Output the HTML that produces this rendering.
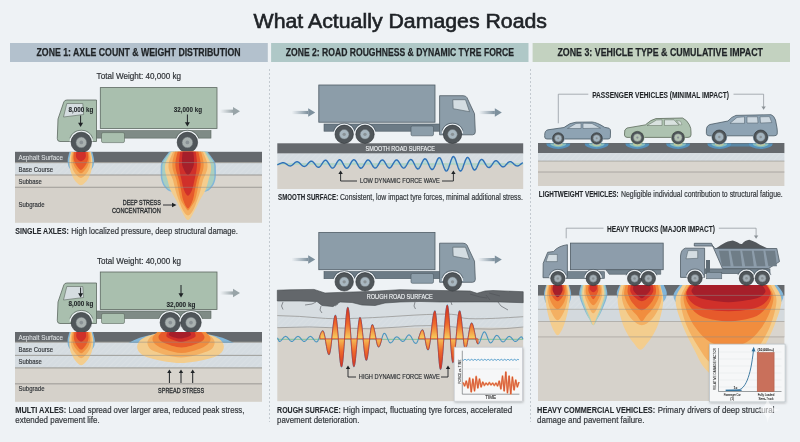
<!DOCTYPE html>
<html><head><meta charset="utf-8"><style>
html,body{margin:0;padding:0;background:#eef2f5;}
svg{display:block;font-family:"Liberation Sans", sans-serif;will-change:transform;}
</style></head><body>
<svg width="800" height="442" viewBox="0 0 800 442">

<defs>
 <pattern id="hatch" patternUnits="userSpaceOnUse" width="4" height="4" patternTransform="rotate(45)">
   <rect width="4" height="4" fill="#d5dce1"/>
   <line x1="0" y1="0" x2="0" y2="4" stroke="#dde3e6" stroke-width="1"/>
 </pattern>
 <linearGradient id="arrG" x1="0" x2="1" y1="0" y2="0">
   <stop offset="0" stop-color="#a7b1b5" stop-opacity="0"/>
   <stop offset="1" stop-color="#98a4a8" stop-opacity="1"/>
 </linearGradient>
 <linearGradient id="arrB" x1="0" x2="1" y1="0" y2="0">
   <stop offset="0" stop-color="#8799a6" stop-opacity="0"/>
   <stop offset="1" stop-color="#7d909d" stop-opacity="1"/>
 </linearGradient>
 <linearGradient id="flame" gradientUnits="userSpaceOnUse" x1="0" y1="303" x2="0" y2="372">
   <stop offset="0" stop-color="#c8231f"/>
   <stop offset="0.3" stop-color="#ee6a2c"/>
   <stop offset="0.5" stop-color="#f6c85a"/>
   <stop offset="0.7" stop-color="#ee6a2c"/>
   <stop offset="1" stop-color="#c8231f"/>
 </linearGradient>
 <filter id="sh" x="-10%" y="-10%" width="120%" height="120%">
   <feDropShadow dx="0.5" dy="1" stdDeviation="1" flood-color="#000" flood-opacity="0.25"/>
 </filter>
 <filter id="blur1"><feGaussianBlur stdDeviation="0.7"/></filter>
</defs>

<rect x="0" y="0" width="800" height="442" rx="0" fill="#eef2f5" />
<text x="253.6" y="28.4" font-size="19.6" fill="#1e2226" textLength="293.4" lengthAdjust="spacingAndGlyphs" stroke="#1e2226" stroke-width="0.6">What Actually Damages Roads</text>
<rect x="10" y="43" width="257.8" height="19" rx="0" fill="#b3c1cd" />
<rect x="271.1" y="43" width="257.4" height="19" rx="0" fill="#afc8c7" />
<rect x="532.6" y="43" width="257.4" height="19" rx="0" fill="#c3d2c0" />
<text x="36.5" y="56.4" font-size="10.8" fill="#1f2326" font-weight="bold" text-anchor="start" textLength="204" lengthAdjust="spacingAndGlyphs" stroke="#1f2326" stroke-width="0.25" >ZONE 1: AXLE COUNT &amp; WEIGHT DISTRIBUTION</text>
<text x="285.8" y="56.4" font-size="10.8" fill="#1f2326" font-weight="bold" text-anchor="start" textLength="228.2" lengthAdjust="spacingAndGlyphs" stroke="#1f2326" stroke-width="0.25" >ZONE 2: ROAD ROUGHNESS &amp; DYNAMIC TYRE FORCE</text>
<text x="557.4" y="56.4" font-size="10.8" fill="#1f2326" font-weight="bold" text-anchor="start" textLength="205.6" lengthAdjust="spacingAndGlyphs" stroke="#1f2326" stroke-width="0.25" >ZONE 3: VEHICLE TYPE &amp; CUMULATIVE IMPACT</text>
<line x1="269.5" y1="69" x2="269.5" y2="422" stroke="#c3cad0" stroke-width="1" stroke-dasharray="2 2"/>
<line x1="530.5" y1="69" x2="530.5" y2="422" stroke="#c3cad0" stroke-width="1" stroke-dasharray="2 2"/>
<rect x="15" y="151.8" width="247" height="10.799999999999983" rx="0" fill="#65696d" />
<rect x="15" y="162.6" width="247" height="12.400000000000006" rx="0" fill="url(#hatch)" />
<rect x="15" y="175" width="247" height="12.300000000000011" rx="0" fill="#d9d5ce" />
<rect x="15" y="187.3" width="247" height="35.5" rx="0" fill="#d5d1ca" />
<line x1="15" y1="162.6" x2="262" y2="162.6" stroke="#a8a6a1" stroke-width="0.7"/>
<line x1="15" y1="175" x2="262" y2="175" stroke="#a8a6a1" stroke-width="0.7"/>
<line x1="15" y1="187.3" x2="262" y2="187.3" stroke="#a8a6a1" stroke-width="0.7"/>
<text x="18.5" y="171.8" font-size="7.6" fill="#2e3236" font-weight="normal" text-anchor="start" textLength="34.6" lengthAdjust="spacingAndGlyphs" stroke="#2e3236" stroke-width="0.1672" >Base Course</text>
<text x="18.5" y="184" font-size="7.6" fill="#2e3236" font-weight="normal" text-anchor="start" textLength="23.299999999999997" lengthAdjust="spacingAndGlyphs" stroke="#2e3236" stroke-width="0.1672" >Subbase</text>
<text x="18.5" y="207.3" font-size="7.6" fill="#2e3236" font-weight="normal" text-anchor="start" textLength="26.0" lengthAdjust="spacingAndGlyphs" stroke="#2e3236" stroke-width="0.1672" >Subgrade</text>
<rect x="15" y="332" width="247" height="10.199999999999989" rx="0" fill="#65696d" />
<rect x="15" y="342.2" width="247" height="13.199999999999989" rx="0" fill="url(#hatch)" />
<rect x="15" y="355.4" width="247" height="12.5" rx="0" fill="url(#hatch)" />
<rect x="15" y="367.9" width="247" height="15.900000000000034" rx="0" fill="#d8d4cd" />
<rect x="15" y="383.8" width="247" height="18.0" rx="0" fill="#d5d1ca" />
<line x1="15" y1="342.2" x2="262" y2="342.2" stroke="#a8a6a1" stroke-width="0.7"/>
<line x1="15" y1="355.4" x2="262" y2="355.4" stroke="#a8a6a1" stroke-width="0.7"/>
<line x1="15" y1="367.9" x2="262" y2="367.9" stroke="#a8a6a1" stroke-width="0.7"/>
<line x1="15" y1="383.8" x2="262" y2="383.8" stroke="#a8a6a1" stroke-width="0.7"/>
<text x="18.5" y="351.6" font-size="7.6" fill="#2e3236" font-weight="normal" text-anchor="start" textLength="34.5" lengthAdjust="spacingAndGlyphs" stroke="#2e3236" stroke-width="0.1672" >Base Course</text>
<text x="18.5" y="364.3" font-size="7.6" fill="#2e3236" font-weight="normal" text-anchor="start" textLength="23.299999999999997" lengthAdjust="spacingAndGlyphs" stroke="#2e3236" stroke-width="0.1672" >Subbase</text>
<text x="18.5" y="391.3" font-size="7.6" fill="#2e3236" font-weight="normal" text-anchor="start" textLength="26.0" lengthAdjust="spacingAndGlyphs" stroke="#2e3236" stroke-width="0.1672" >Subgrade</text>
<text x="15.25" y="234" font-size="9.0" fill="#24282c" font-weight="bold" text-anchor="start" textLength="53.55" lengthAdjust="spacingAndGlyphs" stroke="#24282c" stroke-width="0.09" >SINGLE AXLES:</text>
<text x="71.2" y="234" font-size="9.0" fill="#33373b" font-weight="normal" text-anchor="start" textLength="166.8" lengthAdjust="spacingAndGlyphs" stroke="#33373b" stroke-width="0.19799999999999998" >High localized pressure, deep structural damage.</text>
<text x="15.3" y="412.5" font-size="9.0" fill="#24282c" font-weight="bold" text-anchor="start" textLength="50.95" lengthAdjust="spacingAndGlyphs" stroke="#24282c" stroke-width="0.09" >MULTI AXLES:</text>
<text x="68.4" y="412.5" font-size="9.0" fill="#33373b" font-weight="normal" text-anchor="start" textLength="176.0" lengthAdjust="spacingAndGlyphs" stroke="#33373b" stroke-width="0.19799999999999998" >Load spread over larger area, reduced peak stress,</text>
<text x="15.3" y="422.5" font-size="9.0" fill="#33373b" font-weight="normal" text-anchor="start" textLength="84.4" lengthAdjust="spacingAndGlyphs" stroke="#33373b" stroke-width="0.19799999999999998" >extended pavement life.</text>
<text x="278.1" y="199.9" font-size="8.8" fill="#24282c" font-weight="bold" text-anchor="start" textLength="60.099999999999966" lengthAdjust="spacingAndGlyphs" stroke="#24282c" stroke-width="0.08800000000000001" >SMOOTH SURFACE:</text>
<text x="339.9" y="199.9" font-size="8.8" fill="#33373b" font-weight="normal" text-anchor="start" textLength="182.89999999999998" lengthAdjust="spacingAndGlyphs" stroke="#33373b" stroke-width="0.1936" >Consistent, low impact tyre forces, minimal additional stress.</text>
<text x="277.1" y="413.3" font-size="9.0" fill="#24282c" font-weight="bold" text-anchor="start" textLength="63.69999999999999" lengthAdjust="spacingAndGlyphs" stroke="#24282c" stroke-width="0.09" >ROUGH SURFACE:</text>
<text x="343.1" y="413.3" font-size="9.0" fill="#33373b" font-weight="normal" text-anchor="start" textLength="169.0" lengthAdjust="spacingAndGlyphs" stroke="#33373b" stroke-width="0.19799999999999998" >High impact, fluctuating tyre forces, accelerated</text>
<text x="277.1" y="423.3" font-size="9.0" fill="#33373b" font-weight="normal" text-anchor="start" textLength="82.29999999999995" lengthAdjust="spacingAndGlyphs" stroke="#33373b" stroke-width="0.19799999999999998" >pavement deterioration.</text>
<text x="538.8" y="197.2" font-size="8.8" fill="#24282c" font-weight="bold" text-anchor="start" textLength="79.90000000000009" lengthAdjust="spacingAndGlyphs" stroke="#24282c" stroke-width="0.08800000000000001" >LIGHTWEIGHT VEHICLES:</text>
<text x="621" y="197.2" font-size="8.8" fill="#33373b" font-weight="normal" text-anchor="start" textLength="161.79999999999995" lengthAdjust="spacingAndGlyphs" stroke="#33373b" stroke-width="0.1936" >Negligible individual contribution to structural fatigue.</text>
<text x="537.1" y="413.3" font-size="9.0" fill="#24282c" font-weight="bold" text-anchor="start" textLength="118.0" lengthAdjust="spacingAndGlyphs" stroke="#24282c" stroke-width="0.09" >HEAVY COMMERCIAL VEHICLES:</text>
<text x="657.7" y="413.3" font-size="9.0" fill="#33373b" font-weight="normal" text-anchor="start" textLength="116.69999999999993" lengthAdjust="spacingAndGlyphs" stroke="#33373b" stroke-width="0.19799999999999998" >Primary drivers of deep structural</text>
<text x="537.1" y="423.3" font-size="9.0" fill="#33373b" font-weight="normal" text-anchor="start" textLength="107.29999999999995" lengthAdjust="spacingAndGlyphs" stroke="#33373b" stroke-width="0.19799999999999998" >damage and pavement failure.</text>
<text x="96.6" y="79.3" font-size="9.4" fill="#2e3236" font-weight="normal" text-anchor="start" textLength="84.4" lengthAdjust="spacingAndGlyphs" stroke="#2e3236" stroke-width="0.20679999999999998" >Total Weight: 40,000 kg</text>
<text x="97" y="264" font-size="9.4" fill="#2e3236" font-weight="normal" text-anchor="start" textLength="84" lengthAdjust="spacingAndGlyphs" stroke="#2e3236" stroke-width="0.20679999999999998" >Total Weight: 40,000 kg</text>
<rect x="100.3" y="87.6" width="116.7" height="40.8" rx="0" fill="#a9bfae" stroke="#5c6860" stroke-width="0.8" />
<rect x="95" y="130.6" width="116" height="7.5" rx="0" fill="#7f8b86" stroke="#5c6860" stroke-width="0.6" />
<rect x="101.5" y="132.6" width="23" height="10" rx="1.5" fill="#a9bfae" stroke="#5c6860" stroke-width="0.6" />
<path d="M96.5,100 L67,100 Q64.5,100 63.8,102 L58,119 L57.3,138.5 Q57.3,141.5 60,141.5 L96.5,141.5 Z" fill="#a9bfae" stroke="#5c6860" stroke-width="0.8" />
<path d="M66.8,103.5 L82.8,103.5 L83.6,114.5 L63.5,117 Z" fill="#d5dde0" stroke="#5c6860" stroke-width="0.6" />
<path d="M70.34,141.44 A11.0,11.0 0 0 1 92.26,141.44" fill="none" stroke="#eef2f5" stroke-width="1.7" />
<path d="M69.84,138.23 A12.2,12.2 0 0 1 92.76,138.23" fill="none" stroke="#5f6a66" stroke-width="0.7" />
<circle cx="81.3" cy="142.4" r="10.2" fill="#50565a" stroke="#2c3134" stroke-width="0.6" />
<circle cx="81.3" cy="142.4" r="5.303999999999999" fill="#a9b1b0" stroke="#6f777a" stroke-width="0.5" />
<circle cx="81.3" cy="142.4" r="1.8359999999999999" fill="#8a9296" />
<path d="M176.44,141.44 A11.0,11.0 0 0 1 198.36,141.44" fill="none" stroke="#eef2f5" stroke-width="1.7" />
<path d="M175.94,138.23 A12.2,12.2 0 0 1 198.86,138.23" fill="none" stroke="#5f6a66" stroke-width="0.7" />
<circle cx="187.4" cy="142.4" r="10.2" fill="#50565a" stroke="#2c3134" stroke-width="0.6" />
<circle cx="187.4" cy="142.4" r="5.303999999999999" fill="#a9b1b0" stroke="#6f777a" stroke-width="0.5" />
<circle cx="187.4" cy="142.4" r="1.8359999999999999" fill="#8a9296" />
<text x="68.6" y="112.2" font-size="7.6" fill="#1d2124" font-weight="bold" text-anchor="start" textLength="24.8" lengthAdjust="spacingAndGlyphs" stroke="#1d2124" stroke-width="0.076" >8,000 kg</text>
<line x1="80.6" y1="115.5" x2="80.6" y2="124" stroke="#1f2326" stroke-width="1"/>
<path d="M78.1,122.8 L80.6,127 L83.1,122.8 Z" fill="#1f2326" />
<text x="173.8" y="111.6" font-size="7.6" fill="#1d2124" font-weight="bold" text-anchor="start" textLength="28.2" lengthAdjust="spacingAndGlyphs" stroke="#1d2124" stroke-width="0.076" >32,000 kg</text>
<line x1="187.4" y1="114.5" x2="187.4" y2="123.5" stroke="#1f2326" stroke-width="1"/>
<path d="M184.9,122.3 L187.4,126.5 L189.9,122.3 Z" fill="#1f2326" />
<rect x="220" y="109.60000000000001" width="13" height="3.2" fill="url(#arrG)"/>
<path d="M233,107.0 L240,111.2 L233,115.4 Z" fill="#98a4a8" />
<rect x="100.3" y="272" width="116.7" height="37.5" rx="0" fill="#a9bfae" stroke="#5c6860" stroke-width="0.8" />
<rect x="95" y="311" width="116" height="7.5" rx="0" fill="#7f8b86" stroke="#5c6860" stroke-width="0.6" />
<rect x="101.5" y="313.5" width="23" height="10" rx="1.5" fill="#a9bfae" stroke="#5c6860" stroke-width="0.6" />
<path d="M96.5,283 L67,283 Q64.5,283 63.8,285 L58,302 L57.3,320.5 Q57.3,323.5 60,323.5 L96.5,323.5 Z" fill="#a9bfae" stroke="#5c6860" stroke-width="0.8" />
<path d="M66.8,286.5 L82.8,286.5 L83.6,297.5 L63.5,300 Z" fill="#d5dde0" stroke="#5c6860" stroke-width="0.6" />
<path d="M70.34,321.64 A11.0,11.0 0 0 1 92.26,321.64" fill="none" stroke="#eef2f5" stroke-width="1.7" />
<path d="M69.84,318.43 A12.2,12.2 0 0 1 92.76,318.43" fill="none" stroke="#5f6a66" stroke-width="0.7" />
<circle cx="81.3" cy="322.6" r="10.2" fill="#50565a" stroke="#2c3134" stroke-width="0.6" />
<circle cx="81.3" cy="322.6" r="5.303999999999999" fill="#a9b1b0" stroke="#6f777a" stroke-width="0.5" />
<circle cx="81.3" cy="322.6" r="1.8359999999999999" fill="#8a9296" />
<path d="M159.34,321.64 A11.0,11.0 0 0 1 181.26,321.64" fill="none" stroke="#eef2f5" stroke-width="1.7" />
<path d="M158.84,318.43 A12.2,12.2 0 0 1 181.76,318.43" fill="none" stroke="#5f6a66" stroke-width="0.7" />
<circle cx="170.3" cy="322.6" r="10.2" fill="#50565a" stroke="#2c3134" stroke-width="0.6" />
<circle cx="170.3" cy="322.6" r="5.303999999999999" fill="#a9b1b0" stroke="#6f777a" stroke-width="0.5" />
<circle cx="170.3" cy="322.6" r="1.8359999999999999" fill="#8a9296" />
<path d="M180.04,321.64 A11.0,11.0 0 0 1 201.96,321.64" fill="none" stroke="#eef2f5" stroke-width="1.7" />
<path d="M179.54,318.43 A12.2,12.2 0 0 1 202.46,318.43" fill="none" stroke="#5f6a66" stroke-width="0.7" />
<circle cx="191" cy="322.6" r="10.2" fill="#50565a" stroke="#2c3134" stroke-width="0.6" />
<circle cx="191" cy="322.6" r="5.303999999999999" fill="#a9b1b0" stroke="#6f777a" stroke-width="0.5" />
<circle cx="191" cy="322.6" r="1.8359999999999999" fill="#8a9296" />
<line x1="80.6" y1="287.5" x2="80.6" y2="294.5" stroke="#1f2326" stroke-width="1"/>
<path d="M78.1,293.3 L80.6,297.5 L83.1,293.3 Z" fill="#1f2326" />
<text x="68.6" y="306.2" font-size="7.6" fill="#1d2124" font-weight="bold" text-anchor="start" textLength="24.8" lengthAdjust="spacingAndGlyphs" stroke="#1d2124" stroke-width="0.076" >8,000 kg</text>
<line x1="181" y1="285" x2="181" y2="294.5" stroke="#1f2326" stroke-width="1"/>
<path d="M178.5,293.3 L181,297.5 L183.5,293.3 Z" fill="#1f2326" />
<text x="166.5" y="306.6" font-size="7.6" fill="#1d2124" font-weight="bold" text-anchor="start" textLength="29" lengthAdjust="spacingAndGlyphs" stroke="#1d2124" stroke-width="0.076" >32,000 kg</text>
<rect x="220" y="291.4" width="13" height="3.2" fill="url(#arrG)"/>
<path d="M233,288.8 L240,293 L233,297.2 Z" fill="#98a4a8" />
<path d="M69.47,152.00 C69.17,153.38 67.80,157.75 67.70,160.30 C67.61,162.85 67.87,165.30 68.90,167.30 C69.93,169.30 71.90,171.13 73.90,172.30 C75.90,173.47 78.57,174.30 80.90,174.30 C83.23,174.30 85.90,173.47 87.90,172.30 C89.90,171.13 91.87,169.30 92.90,167.30 C93.93,165.30 94.20,162.85 94.10,160.30 C94.01,157.75 92.63,153.38 92.33,152.00 Z" fill="#82b6d9" />
<path d="M71.00,152.00 C70.73,153.38 69.50,157.25 69.40,160.30 C69.30,163.35 69.73,167.30 70.40,170.30 C71.07,173.30 72.23,176.13 73.40,178.30 C74.57,180.47 76.15,182.13 77.40,183.30 C78.65,184.47 79.73,185.30 80.90,185.30 C82.07,185.30 83.15,184.47 84.40,183.30 C85.65,182.13 87.23,180.47 88.40,178.30 C89.57,176.13 90.73,173.30 91.40,170.30 C92.07,167.30 92.50,163.35 92.40,160.30 C92.30,157.25 91.07,153.38 90.80,152.00 Z" fill="#f3cd8e" />
<path d="M71.90,152.00 C71.73,153.38 70.82,157.58 70.90,160.30 C70.98,163.02 71.57,165.97 72.40,168.30 C73.23,170.63 74.48,172.70 75.90,174.30 C77.32,175.90 79.23,177.90 80.90,177.90 C82.57,177.90 84.48,175.90 85.90,174.30 C87.32,172.70 88.57,170.63 89.40,168.30 C90.23,165.97 90.82,163.02 90.90,160.30 C90.98,157.58 90.07,153.38 89.90,152.00 Z" fill="#f4b062" />
<path d="M73.25,152.00 C73.11,153.22 72.21,156.92 72.40,159.30 C72.59,161.68 73.48,164.30 74.40,166.30 C75.32,168.30 76.82,170.13 77.90,171.30 C78.98,172.47 79.90,173.30 80.90,173.30 C81.90,173.30 82.82,172.47 83.90,171.30 C84.98,170.13 86.48,168.30 87.40,166.30 C88.32,164.30 89.21,161.68 89.40,159.30 C89.59,156.92 88.69,153.22 88.55,152.00 Z" fill="#f18d3e" />
<path d="M74.15,152.00 C74.06,153.05 73.34,156.25 73.60,158.30 C73.86,160.35 74.48,162.37 75.70,164.30 C76.92,166.23 79.17,169.90 80.90,169.90 C82.63,169.90 84.88,166.23 86.10,164.30 C87.32,162.37 87.94,160.35 88.20,158.30 C88.46,156.25 87.74,153.05 87.65,152.00 Z" fill="#e65a2b" />
<path d="M76.40,152.00 C76.32,152.72 75.73,155.08 75.90,156.30 C76.07,157.52 76.57,158.47 77.40,159.30 C78.23,160.13 79.73,161.30 80.90,161.30 C82.07,161.30 83.57,160.13 84.40,159.30 C85.23,158.47 85.73,157.52 85.90,156.30 C86.07,155.08 85.48,152.72 85.40,152.00 Z" fill="#d0302a" />
<path d="M169.13,151.70 C167.91,153.42 163.21,158.95 161.80,162.00 C160.40,165.05 160.78,167.00 160.70,170.00 C160.62,173.00 160.53,177.00 161.30,180.00 C162.07,183.00 163.47,186.00 165.30,188.00 C167.13,190.00 168.47,191.00 172.30,192.00 C176.13,193.00 182.97,194.00 188.30,194.00 C193.63,194.00 200.47,193.00 204.30,192.00 C208.13,191.00 209.47,190.00 211.30,188.00 C213.13,186.00 214.53,183.00 215.30,180.00 C216.07,177.00 215.98,173.00 215.90,170.00 C215.82,167.00 216.21,165.05 214.80,162.00 C213.40,158.95 208.69,153.42 207.47,151.70 Z" fill="#82b6d9" />
<path d="M170.30,151.70 C169.13,153.42 164.63,158.95 163.30,162.00 C161.97,165.05 162.38,167.00 162.30,170.00 C162.22,173.00 161.97,177.00 162.80,180.00 C163.63,183.00 165.22,186.00 167.30,188.00 C169.38,190.00 171.80,191.08 175.30,192.00 C178.80,192.92 183.97,193.50 188.30,193.50 C192.63,193.50 197.80,192.92 201.30,192.00 C204.80,191.08 207.22,190.00 209.30,188.00 C211.38,186.00 212.97,183.00 213.80,180.00 C214.63,177.00 214.38,173.00 214.30,170.00 C214.22,167.00 214.63,165.05 213.30,162.00 C211.97,158.95 207.47,153.42 206.30,151.70 Z" fill="#a9cfc0" />
<path d="M171.35,151.70 C170.46,153.42 167.06,158.95 166.00,162.00 C164.94,165.05 164.75,167.00 165.00,170.00 C165.25,173.00 166.58,176.67 167.50,180.00 C168.42,183.33 169.07,186.67 170.50,190.00 C171.93,193.33 174.33,196.67 176.10,200.00 C177.87,203.33 179.12,206.67 181.10,210.00 C183.08,213.33 185.70,220.00 188.00,220.00 C190.30,220.00 192.92,213.33 194.90,210.00 C196.88,206.67 198.13,203.33 199.90,200.00 C201.67,196.67 204.07,193.33 205.50,190.00 C206.93,186.67 207.58,183.33 208.50,180.00 C209.42,176.67 210.75,173.00 211.00,170.00 C211.25,167.00 211.06,165.05 210.00,162.00 C208.94,158.95 205.54,153.42 204.65,151.70 Z" fill="#f3cd8e" />
<path d="M173.15,151.70 C172.46,153.42 169.69,158.95 169.00,162.00 C168.31,165.05 168.33,167.00 169.00,170.00 C169.67,173.00 171.93,176.67 173.00,180.00 C174.07,183.33 174.45,186.67 175.40,190.00 C176.35,193.33 177.47,196.67 178.70,200.00 C179.93,203.33 181.25,207.40 182.80,210.00 C184.35,212.60 186.27,215.60 188.00,215.60 C189.73,215.60 191.65,212.60 193.20,210.00 C194.75,207.40 196.07,203.33 197.30,200.00 C198.53,196.67 199.65,193.33 200.60,190.00 C201.55,186.67 201.93,183.33 203.00,180.00 C204.07,176.67 206.33,173.00 207.00,170.00 C207.67,167.00 207.69,165.05 207.00,162.00 C206.31,158.95 203.54,153.42 202.85,151.70 Z" fill="#f4b062" />
<path d="M174.95,151.70 C174.54,153.42 172.82,158.95 172.50,162.00 C172.18,165.05 172.33,167.00 173.00,170.00 C173.67,173.00 175.58,176.67 176.50,180.00 C177.42,183.33 177.77,186.67 178.50,190.00 C179.23,193.33 179.90,197.33 180.90,200.00 C181.90,202.67 183.32,204.27 184.50,206.00 C185.68,207.73 186.83,210.40 188.00,210.40 C189.17,210.40 190.32,207.73 191.50,206.00 C192.68,204.27 194.10,202.67 195.10,200.00 C196.10,197.33 196.77,193.33 197.50,190.00 C198.23,186.67 198.58,183.33 199.50,180.00 C200.42,176.67 202.33,173.00 203.00,170.00 C203.67,167.00 203.82,165.05 203.50,162.00 C203.18,158.95 201.46,153.42 201.05,151.70 Z" fill="#f18d3e" />
<path d="M177.65,151.70 C177.29,153.42 175.78,158.95 175.50,162.00 C175.22,165.05 175.42,167.00 176.00,170.00 C176.58,173.00 178.15,176.67 179.00,180.00 C179.85,183.33 180.40,186.67 181.10,190.00 C181.80,193.33 182.05,196.92 183.20,200.00 C184.35,203.08 186.40,208.50 188.00,208.50 C189.60,208.50 191.65,203.08 192.80,200.00 C193.95,196.92 194.20,193.33 194.90,190.00 C195.60,186.67 196.15,183.33 197.00,180.00 C197.85,176.67 199.42,173.00 200.00,170.00 C200.58,167.00 200.78,165.05 200.50,162.00 C200.22,158.95 198.71,153.42 198.35,151.70 Z" fill="#e65a2b" />
<path d="M180.26,151.70 C180.05,153.42 179.13,158.95 179.00,162.00 C178.87,165.05 179.08,167.00 179.50,170.00 C179.92,173.00 180.75,176.67 181.50,180.00 C182.25,183.33 182.92,187.38 184.00,190.00 C185.08,192.62 186.67,195.70 188.00,195.70 C189.33,195.70 190.92,192.62 192.00,190.00 C193.08,187.38 193.75,183.33 194.50,180.00 C195.25,176.67 196.08,173.00 196.50,170.00 C196.92,167.00 197.13,165.05 197.00,162.00 C196.87,158.95 195.95,153.42 195.74,151.70 Z" fill="#d0302a" />
<path d="M182.69,151.70 C182.57,153.08 181.98,157.45 182.00,160.00 C182.02,162.55 181.80,164.50 182.80,167.00 C183.80,169.50 186.27,175.00 188.00,175.00 C189.73,175.00 192.20,169.50 193.20,167.00 C194.20,164.50 193.98,162.55 194.00,160.00 C194.02,157.45 193.43,153.08 193.31,151.70 Z" fill="#a61f2a" />
<path d="M69.50,331.90 C69.18,333.28 67.73,337.65 67.60,340.20 C67.47,342.75 67.60,345.20 68.70,347.20 C69.80,349.20 72.12,351.03 74.20,352.20 C76.28,353.37 78.87,354.20 81.20,354.20 C83.53,354.20 86.12,353.37 88.20,352.20 C90.28,351.03 92.60,349.20 93.70,347.20 C94.80,345.20 94.93,342.75 94.80,340.20 C94.67,337.65 93.22,333.28 92.90,331.90 Z" fill="#82b6d9" />
<path d="M70.85,331.90 C70.58,333.28 69.31,337.15 69.20,340.20 C69.09,343.25 69.45,347.20 70.20,350.20 C70.95,353.20 72.45,356.03 73.70,358.20 C74.95,360.37 76.45,362.03 77.70,363.20 C78.95,364.37 80.03,365.20 81.20,365.20 C82.37,365.20 83.45,364.37 84.70,363.20 C85.95,362.03 87.45,360.37 88.70,358.20 C89.95,356.03 91.45,353.20 92.20,350.20 C92.95,347.20 93.31,343.25 93.20,340.20 C93.09,337.15 91.83,333.28 91.55,331.90 Z" fill="#f3cd8e" />
<path d="M71.75,331.90 C71.58,333.28 70.62,337.48 70.70,340.20 C70.78,342.92 71.28,345.87 72.20,348.20 C73.12,350.53 74.70,352.53 76.20,354.20 C77.70,355.87 79.53,358.20 81.20,358.20 C82.87,358.20 84.70,355.87 86.20,354.20 C87.70,352.53 89.28,350.53 90.20,348.20 C91.12,345.87 91.62,342.92 91.70,340.20 C91.78,337.48 90.83,333.28 90.65,331.90 Z" fill="#f4b062" />
<path d="M73.10,331.90 C72.95,333.12 72.02,336.82 72.20,339.20 C72.38,341.58 73.20,344.20 74.20,346.20 C75.20,348.20 77.03,350.03 78.20,351.20 C79.37,352.37 80.20,353.20 81.20,353.20 C82.20,353.20 83.03,352.37 84.20,351.20 C85.37,350.03 87.20,348.20 88.20,346.20 C89.20,344.20 90.02,341.58 90.20,339.20 C90.38,336.82 89.45,333.12 89.30,331.90 Z" fill="#f18d3e" />
<path d="M74.45,331.90 C74.36,332.95 73.64,336.15 73.90,338.20 C74.16,340.25 74.78,342.28 76.00,344.20 C77.22,346.12 79.47,349.70 81.20,349.70 C82.93,349.70 85.18,346.12 86.40,344.20 C87.62,342.28 88.24,340.25 88.50,338.20 C88.76,336.15 88.04,332.95 87.95,331.90 Z" fill="#e65a2b" />
<path d="M76.70,331.90 C76.62,332.62 76.03,334.98 76.20,336.20 C76.37,337.42 76.87,338.28 77.70,339.20 C78.53,340.12 80.03,341.70 81.20,341.70 C82.37,341.70 83.87,340.12 84.70,339.20 C85.53,338.28 86.03,337.42 86.20,336.20 C86.37,334.98 85.78,332.62 85.70,331.90 Z" fill="#d0302a" />
<path d="M128.5,343 C142,334.5 162,332.4 181,332.4 C200,332.4 220,334.5 234,343 L224,343 C210,338 195,336 181,336 C167,336 152,338 138,343 Z" fill="#82b6d9" />
<path d="M162.50,332.10 C159.50,332.98 148.67,335.35 144.50,337.40 C140.33,339.45 138.33,341.90 137.50,344.40 C136.67,346.90 137.17,350.07 139.50,352.40 C141.83,354.73 144.67,356.65 151.50,358.40 C158.33,360.15 170.83,362.90 180.50,362.90 C190.17,362.90 202.67,360.15 209.50,358.40 C216.33,356.65 219.17,354.73 221.50,352.40 C223.83,350.07 224.33,346.90 223.50,344.40 C222.67,341.90 220.67,339.45 216.50,337.40 C212.33,335.35 201.50,332.98 198.50,332.10 Z" fill="#f3cd8e" />
<path d="M159.40,332.10 C157.67,333.15 150.90,336.18 149.00,338.40 C147.10,340.62 147.00,343.23 148.00,345.40 C149.00,347.57 149.50,349.40 155.00,351.40 C160.50,353.40 172.33,357.40 181.00,357.40 C189.67,357.40 201.50,353.40 207.00,351.40 C212.50,349.40 213.00,347.57 214.00,345.40 C215.00,343.23 214.90,340.62 213.00,338.40 C211.10,336.18 204.33,333.15 202.60,332.10 Z" fill="#f4b062" />
<path d="M157.20,332.10 C156.42,333.15 152.78,336.35 152.50,338.40 C152.22,340.45 153.33,342.57 155.50,344.40 C157.67,346.23 161.17,347.98 165.50,349.40 C169.83,350.82 176.17,352.90 181.50,352.90 C186.83,352.90 193.17,350.82 197.50,349.40 C201.83,347.98 205.33,346.23 207.50,344.40 C209.67,342.57 210.78,340.45 210.50,338.40 C210.22,336.35 206.58,333.15 205.80,332.10 Z" fill="#f18d3e" />
<path d="M161.70,332.10 C161.17,332.98 158.20,335.68 158.50,337.40 C158.80,339.12 159.67,340.73 163.50,342.40 C167.33,344.07 175.50,347.40 181.50,347.40 C187.50,347.40 195.67,344.07 199.50,342.40 C203.33,340.73 204.20,339.12 204.50,337.40 C204.80,335.68 201.83,332.98 201.30,332.10 Z" fill="#e65a2b" />
<path d="M167.50,332.10 C167.33,332.82 165.75,335.18 166.50,336.40 C167.25,337.62 169.58,338.48 172.00,339.40 C174.42,340.32 178.00,341.90 181.00,341.90 C184.00,341.90 187.58,340.32 190.00,339.40 C192.42,338.48 194.75,337.62 195.50,336.40 C196.25,335.18 194.67,332.82 194.50,332.10 Z" fill="#d0302a" />
<path d="M170.10,332.10 C170.00,332.65 167.85,334.35 169.50,335.40 C171.15,336.45 176.50,338.40 180.00,338.40 C183.50,338.40 188.85,336.45 190.50,335.40 C192.15,334.35 190.00,332.65 189.90,332.10 Z" fill="#a61f2a" />
<line x1="15" y1="162.6" x2="262" y2="162.6" stroke="#8d8b87" stroke-width="0.5"/>
<line x1="15" y1="175" x2="262" y2="175" stroke="#8d8b87" stroke-width="0.5"/>
<line x1="15" y1="187.3" x2="262" y2="187.3" stroke="#8d8b87" stroke-width="0.5"/>
<line x1="15" y1="342.2" x2="262" y2="342.2" stroke="#8d8b87" stroke-width="0.5"/>
<line x1="15" y1="355.4" x2="262" y2="355.4" stroke="#8d8b87" stroke-width="0.5"/>
<line x1="15" y1="367.9" x2="262" y2="367.9" stroke="#8d8b87" stroke-width="0.5"/>
<line x1="15" y1="383.8" x2="262" y2="383.8" stroke="#8d8b87" stroke-width="0.5"/>
<text x="18.5" y="159.8" font-size="7.6" fill="#e1e5e7" font-weight="normal" text-anchor="start" textLength="44.4" lengthAdjust="spacingAndGlyphs" stroke="#e1e5e7" stroke-width="0.05" >Asphalt Surface</text>
<text x="18.5" y="339.7" font-size="7.6" fill="#e1e5e7" font-weight="normal" text-anchor="start" textLength="44.5" lengthAdjust="spacingAndGlyphs" stroke="#e1e5e7" stroke-width="0.05" >Asphalt Surface</text>
<text x="122.8" y="204.7" font-size="7.6" fill="#25292c" font-weight="normal" text-anchor="start" textLength="38" lengthAdjust="spacingAndGlyphs" stroke="#25292c" stroke-width="0.3" >DEEP STRESS</text>
<text x="112" y="212.7" font-size="7.6" fill="#25292c" font-weight="normal" text-anchor="start" textLength="48.8" lengthAdjust="spacingAndGlyphs" stroke="#25292c" stroke-width="0.3" >CONCENTRATION</text>
<line x1="163" y1="205" x2="172.5" y2="205" stroke="#1f2326" stroke-width="0.9"/>
<path d="M172,202.8 L176.5,205 L172,207.2 Z" fill="#1f2326" />
<line x1="169.4" y1="383" x2="169.4" y2="372.5" stroke="#1f2326" stroke-width="1"/>
<path d="M167.20000000000002,373.0 L169.4,369.5 L171.6,373.0 Z" fill="#1f2326" />
<line x1="181" y1="383" x2="181" y2="372.5" stroke="#1f2326" stroke-width="1"/>
<path d="M178.8,373.0 L181,369.5 L183.2,373.0 Z" fill="#1f2326" />
<line x1="192.7" y1="383" x2="192.7" y2="372.5" stroke="#1f2326" stroke-width="1"/>
<path d="M190.5,373.0 L192.7,369.5 L194.89999999999998,373.0 Z" fill="#1f2326" />
<text x="158.1" y="392.7" font-size="7.4" fill="#25292c" font-weight="normal" text-anchor="start" textLength="46" lengthAdjust="spacingAndGlyphs" stroke="#25292c" stroke-width="0.28" >SPREAD STRESS</text>
<rect x="277.3" y="143.3" width="245.9" height="10.3" rx="0" fill="#65696d" />
<rect x="277.3" y="153.6" width="245.9" height="10.8" rx="0" fill="url(#hatch)" />
<rect x="277.3" y="164.4" width="245.9" height="24.6" rx="0" fill="#d6d2cb" />
<text x="365.5" y="151" font-size="7.2" fill="#eef1f3" font-weight="normal" text-anchor="start" textLength="69.5" lengthAdjust="spacingAndGlyphs" stroke="#eef1f3" stroke-width="0.15839999999999999" >SMOOTH ROAD SURFACE</text>
<line x1="277.3" y1="164" x2="523.2" y2="164" stroke="#9fcfa9" stroke-width="1.2"/>
<path d="M277.30,164.75 L277.80,164.59 L278.30,164.40 L278.80,164.19 L279.30,163.97 L279.80,163.73 L280.30,163.50 L280.80,163.28 L281.30,163.08 L281.80,162.92 L282.30,162.80 L282.80,162.74 L283.30,162.73 L283.80,162.79 L284.30,162.91 L284.80,163.10 L285.30,163.34 L285.80,163.64 L286.30,163.98 L286.80,164.33 L287.30,164.69 L287.80,165.04 L288.30,165.36 L288.80,165.62 L289.30,165.81 L289.80,165.91 L290.30,165.93 L290.80,165.84 L291.30,165.66 L291.80,165.38 L292.30,165.03 L292.80,164.61 L293.30,164.14 L293.80,163.65 L294.30,163.18 L294.80,162.73 L295.30,162.34 L295.80,162.03 L296.30,161.81 L296.80,161.71 L297.30,161.72 L297.80,161.84 L298.30,162.06 L298.80,162.38 L299.30,162.78 L299.80,163.24 L300.30,163.74 L300.80,164.25 L301.30,164.76 L301.80,165.24 L302.30,165.66 L302.80,166.01 L303.30,166.26 L303.80,166.41 L304.30,166.44 L304.80,166.36 L305.30,166.16 L305.80,165.85 L306.30,165.44 L306.80,164.96 L307.30,164.42 L307.80,163.84 L308.30,163.27 L308.80,162.72 L309.30,162.22 L309.80,161.79 L310.30,161.47 L310.80,161.26 L311.30,161.19 L311.80,161.25 L312.30,161.44 L312.80,161.77 L313.30,162.21 L313.80,162.76 L314.30,163.37 L314.80,164.03 L315.30,164.71 L315.80,165.36 L316.30,165.96 L316.80,166.48 L317.30,166.89 L317.80,167.16 L318.30,167.29 L318.80,167.25 L319.30,167.05 L319.80,166.70 L320.30,166.21 L320.80,165.60 L321.30,164.89 L321.80,164.13 L322.30,163.35 L322.80,162.59 L323.30,161.88 L323.80,161.26 L324.30,160.76 L324.80,160.42 L325.30,160.25 L325.80,160.26 L326.30,160.45 L326.80,160.82 L327.30,161.36 L327.80,162.03 L328.30,162.81 L328.80,163.66 L329.30,164.54 L329.80,165.40 L330.30,166.20 L330.80,166.91 L331.30,167.48 L331.80,167.89 L332.30,168.11 L332.80,168.13 L333.30,167.94 L333.80,167.56 L334.30,167.01 L334.80,166.30 L335.30,165.47 L335.80,164.57 L336.30,163.63 L336.80,162.71 L337.30,161.84 L337.80,161.08 L338.30,160.46 L338.80,160.01 L339.30,159.76 L339.80,159.71 L340.30,159.87 L340.80,160.23 L341.30,160.78 L341.80,161.48 L342.30,162.31 L342.80,163.22 L343.30,164.16 L343.80,165.10 L344.30,165.98 L344.80,166.77 L345.30,167.42 L345.80,167.90 L346.30,168.20 L346.80,168.29 L347.30,168.17 L347.80,167.85 L348.30,167.34 L348.80,166.67 L349.30,165.87 L349.80,164.98 L350.30,164.05 L350.80,163.11 L351.30,162.22 L351.80,161.41 L352.30,160.73 L352.80,160.21 L353.30,159.88 L353.80,159.74 L354.30,159.82 L354.80,160.09 L355.30,160.56 L355.80,161.19 L356.30,161.96 L356.80,162.83 L357.30,163.75 L357.80,164.68 L358.30,165.58 L358.80,166.40 L359.30,167.10 L359.80,167.65 L360.30,168.03 L360.80,168.20 L361.30,168.17 L361.80,167.94 L362.30,167.52 L362.80,166.93 L363.30,166.20 L363.80,165.36 L364.30,164.45 L364.80,163.53 L365.30,162.63 L365.80,161.80 L366.30,161.08 L366.80,160.50 L367.30,160.09 L367.80,159.87 L368.30,159.85 L368.80,160.04 L369.30,160.42 L369.80,160.97 L370.30,161.66 L370.80,162.47 L371.30,163.35 L371.80,164.26 L372.30,165.16 L372.80,166.00 L373.30,166.74 L373.80,167.35 L374.30,167.79 L374.80,168.05 L375.30,168.11 L375.80,167.97 L376.30,167.64 L376.80,167.13 L377.30,166.47 L377.80,165.69 L378.30,164.83 L378.80,163.94 L379.30,163.04 L379.80,162.20 L380.30,161.44 L380.80,160.81 L381.30,160.34 L381.80,160.04 L382.30,159.94 L382.80,160.03 L383.30,160.32 L383.80,160.78 L384.30,161.40 L384.80,162.15 L385.30,162.98 L385.80,163.87 L386.30,164.75 L386.80,165.60 L387.30,166.38 L387.80,167.03 L388.30,167.54 L388.80,167.87 L389.30,168.02 L389.80,167.97 L390.30,167.73 L390.80,167.30 L391.30,166.72 L391.80,166.01 L392.30,165.20 L392.80,164.33 L393.30,163.44 L393.80,162.59 L394.30,161.80 L394.80,161.12 L395.30,160.58 L395.80,160.21 L396.30,160.02 L396.80,160.02 L397.30,160.22 L397.80,160.60 L398.30,161.15 L398.80,161.83 L399.30,162.62 L399.80,163.48 L400.30,164.36 L400.80,165.23 L401.30,166.04 L401.80,166.75 L402.30,167.33 L402.80,167.76 L403.30,168.01 L403.80,168.07 L404.30,167.93 L404.80,167.60 L405.30,167.09 L405.80,166.42 L406.30,165.63 L406.80,164.75 L407.30,163.82 L407.80,162.89 L408.30,162.00 L408.80,161.19 L409.30,160.50 L409.80,159.98 L410.30,159.65 L410.80,159.52 L411.30,159.61 L411.80,159.92 L412.30,160.44 L412.80,161.13 L413.30,161.98 L413.80,162.94 L414.30,163.97 L414.80,165.01 L415.30,166.02 L415.80,166.95 L416.30,167.74 L416.80,168.36 L417.30,168.77 L417.80,168.96 L418.30,168.90 L418.80,168.60 L419.30,168.07 L419.80,167.33 L420.30,166.43 L420.80,165.39 L421.30,164.28 L421.80,163.15 L422.30,162.05 L422.80,161.05 L423.30,160.18 L423.80,159.50 L424.30,159.04 L424.80,158.82 L425.30,158.85 L425.80,159.13 L426.30,159.65 L426.80,160.37 L427.30,161.28 L427.80,162.32 L428.30,163.45 L428.80,164.62 L429.30,165.77 L429.80,166.85 L430.30,167.80 L430.80,168.58 L431.30,169.15 L431.80,169.48 L432.30,169.55 L432.80,169.34 L433.30,168.87 L433.80,168.16 L434.30,167.23 L434.80,166.12 L435.30,164.89 L435.80,163.59 L436.30,162.29 L436.80,161.05 L437.30,159.93 L437.80,158.98 L438.30,158.27 L438.80,157.82 L439.30,157.67 L439.80,157.83 L440.30,158.29 L440.80,159.05 L441.30,160.06 L441.80,161.29 L442.30,162.67 L442.80,164.13 L443.30,165.62 L443.80,167.05 L444.30,168.35 L444.80,169.46 L445.30,170.31 L445.80,170.86 L446.30,171.08 L446.80,170.96 L447.30,170.49 L447.80,169.70 L448.30,168.61 L448.80,167.29 L449.30,165.80 L449.80,164.21 L450.30,162.60 L450.80,161.04 L451.30,159.63 L451.80,158.43 L452.30,157.49 L452.80,156.88 L453.30,156.61 L453.80,156.71 L454.30,157.17 L454.80,157.96 L455.30,159.04 L455.80,160.36 L456.30,161.85 L456.80,163.44 L457.30,165.04 L457.80,166.58 L458.30,167.97 L458.80,169.17 L459.30,170.09 L459.80,170.72 L460.30,171.01 L460.80,170.96 L461.30,170.57 L461.80,169.86 L462.30,168.89 L462.80,167.68 L463.30,166.31 L463.80,164.85 L464.30,163.36 L464.80,161.92 L465.30,160.59 L465.80,159.44 L466.30,158.52 L466.80,157.86 L467.30,157.51 L467.80,157.48 L468.30,157.75 L468.80,158.32 L469.30,159.17 L469.80,160.24 L470.30,161.50 L470.80,162.87 L471.30,164.30 L471.80,165.70 L472.30,167.00 L472.80,168.13 L473.30,169.04 L473.80,169.68 L474.30,170.02 L474.80,170.06 L475.30,169.80 L475.80,169.27 L476.30,168.49 L476.80,167.51 L477.30,166.40 L477.80,165.21 L478.30,164.01 L478.80,162.86 L479.30,161.80 L479.80,160.90 L480.30,160.19 L480.80,159.70 L481.30,159.43 L481.80,159.40 L482.30,159.59 L482.80,159.99 L483.30,160.55 L483.80,161.26 L484.30,162.06 L484.80,162.93 L485.30,163.80 L485.80,164.65 L486.30,165.44 L486.80,166.13 L487.30,166.70 L487.80,167.13 L488.30,167.41 L488.80,167.52 L489.30,167.47 L489.80,167.27 L490.30,166.91 L490.80,166.41 L491.30,165.80 L491.80,165.10 L492.30,164.35 L492.80,163.58 L493.30,162.84 L493.80,162.16 L494.30,161.58 L494.80,161.13 L495.30,160.82 L495.80,160.66 L496.30,160.68 L496.80,160.85 L497.30,161.18 L497.80,161.64 L498.30,162.20 L498.80,162.85 L499.30,163.53 L499.80,164.23 L500.30,164.90 L500.80,165.51 L501.30,166.04 L501.80,166.45 L502.30,166.74 L502.80,166.89 L503.30,166.89 L503.80,166.75 L504.30,166.49 L504.80,166.11 L505.30,165.63 L505.80,165.10 L506.30,164.52 L506.80,163.94 L507.30,163.37 L507.80,162.85 L508.30,162.41 L508.80,162.05 L509.30,161.80 L509.80,161.66 L510.30,161.64 L510.80,161.73 L511.30,161.93 L511.80,162.22 L512.30,162.59 L512.80,163.02 L513.30,163.48 L513.80,163.95 L514.30,164.41 L514.80,164.84 L515.30,165.21 L515.80,165.52 L516.30,165.75 L516.80,165.89 L517.30,165.93 L517.80,165.88 L518.30,165.75 L518.80,165.53 L519.30,165.25 L519.80,164.91 L520.30,164.53 L520.80,164.13 L521.30,163.73 L521.80,163.35 L522.30,163.00 L522.80,162.70 L523.2,164 L277.3,164 Z" fill="#a9d3cf" opacity="0.6"/>
<path d="M277.30,164.75 L277.80,164.59 L278.30,164.40 L278.80,164.19 L279.30,163.97 L279.80,163.73 L280.30,163.50 L280.80,163.28 L281.30,163.08 L281.80,162.92 L282.30,162.80 L282.80,162.74 L283.30,162.73 L283.80,162.79 L284.30,162.91 L284.80,163.10 L285.30,163.34 L285.80,163.64 L286.30,163.98 L286.80,164.33 L287.30,164.69 L287.80,165.04 L288.30,165.36 L288.80,165.62 L289.30,165.81 L289.80,165.91 L290.30,165.93 L290.80,165.84 L291.30,165.66 L291.80,165.38 L292.30,165.03 L292.80,164.61 L293.30,164.14 L293.80,163.65 L294.30,163.18 L294.80,162.73 L295.30,162.34 L295.80,162.03 L296.30,161.81 L296.80,161.71 L297.30,161.72 L297.80,161.84 L298.30,162.06 L298.80,162.38 L299.30,162.78 L299.80,163.24 L300.30,163.74 L300.80,164.25 L301.30,164.76 L301.80,165.24 L302.30,165.66 L302.80,166.01 L303.30,166.26 L303.80,166.41 L304.30,166.44 L304.80,166.36 L305.30,166.16 L305.80,165.85 L306.30,165.44 L306.80,164.96 L307.30,164.42 L307.80,163.84 L308.30,163.27 L308.80,162.72 L309.30,162.22 L309.80,161.79 L310.30,161.47 L310.80,161.26 L311.30,161.19 L311.80,161.25 L312.30,161.44 L312.80,161.77 L313.30,162.21 L313.80,162.76 L314.30,163.37 L314.80,164.03 L315.30,164.71 L315.80,165.36 L316.30,165.96 L316.80,166.48 L317.30,166.89 L317.80,167.16 L318.30,167.29 L318.80,167.25 L319.30,167.05 L319.80,166.70 L320.30,166.21 L320.80,165.60 L321.30,164.89 L321.80,164.13 L322.30,163.35 L322.80,162.59 L323.30,161.88 L323.80,161.26 L324.30,160.76 L324.80,160.42 L325.30,160.25 L325.80,160.26 L326.30,160.45 L326.80,160.82 L327.30,161.36 L327.80,162.03 L328.30,162.81 L328.80,163.66 L329.30,164.54 L329.80,165.40 L330.30,166.20 L330.80,166.91 L331.30,167.48 L331.80,167.89 L332.30,168.11 L332.80,168.13 L333.30,167.94 L333.80,167.56 L334.30,167.01 L334.80,166.30 L335.30,165.47 L335.80,164.57 L336.30,163.63 L336.80,162.71 L337.30,161.84 L337.80,161.08 L338.30,160.46 L338.80,160.01 L339.30,159.76 L339.80,159.71 L340.30,159.87 L340.80,160.23 L341.30,160.78 L341.80,161.48 L342.30,162.31 L342.80,163.22 L343.30,164.16 L343.80,165.10 L344.30,165.98 L344.80,166.77 L345.30,167.42 L345.80,167.90 L346.30,168.20 L346.80,168.29 L347.30,168.17 L347.80,167.85 L348.30,167.34 L348.80,166.67 L349.30,165.87 L349.80,164.98 L350.30,164.05 L350.80,163.11 L351.30,162.22 L351.80,161.41 L352.30,160.73 L352.80,160.21 L353.30,159.88 L353.80,159.74 L354.30,159.82 L354.80,160.09 L355.30,160.56 L355.80,161.19 L356.30,161.96 L356.80,162.83 L357.30,163.75 L357.80,164.68 L358.30,165.58 L358.80,166.40 L359.30,167.10 L359.80,167.65 L360.30,168.03 L360.80,168.20 L361.30,168.17 L361.80,167.94 L362.30,167.52 L362.80,166.93 L363.30,166.20 L363.80,165.36 L364.30,164.45 L364.80,163.53 L365.30,162.63 L365.80,161.80 L366.30,161.08 L366.80,160.50 L367.30,160.09 L367.80,159.87 L368.30,159.85 L368.80,160.04 L369.30,160.42 L369.80,160.97 L370.30,161.66 L370.80,162.47 L371.30,163.35 L371.80,164.26 L372.30,165.16 L372.80,166.00 L373.30,166.74 L373.80,167.35 L374.30,167.79 L374.80,168.05 L375.30,168.11 L375.80,167.97 L376.30,167.64 L376.80,167.13 L377.30,166.47 L377.80,165.69 L378.30,164.83 L378.80,163.94 L379.30,163.04 L379.80,162.20 L380.30,161.44 L380.80,160.81 L381.30,160.34 L381.80,160.04 L382.30,159.94 L382.80,160.03 L383.30,160.32 L383.80,160.78 L384.30,161.40 L384.80,162.15 L385.30,162.98 L385.80,163.87 L386.30,164.75 L386.80,165.60 L387.30,166.38 L387.80,167.03 L388.30,167.54 L388.80,167.87 L389.30,168.02 L389.80,167.97 L390.30,167.73 L390.80,167.30 L391.30,166.72 L391.80,166.01 L392.30,165.20 L392.80,164.33 L393.30,163.44 L393.80,162.59 L394.30,161.80 L394.80,161.12 L395.30,160.58 L395.80,160.21 L396.30,160.02 L396.80,160.02 L397.30,160.22 L397.80,160.60 L398.30,161.15 L398.80,161.83 L399.30,162.62 L399.80,163.48 L400.30,164.36 L400.80,165.23 L401.30,166.04 L401.80,166.75 L402.30,167.33 L402.80,167.76 L403.30,168.01 L403.80,168.07 L404.30,167.93 L404.80,167.60 L405.30,167.09 L405.80,166.42 L406.30,165.63 L406.80,164.75 L407.30,163.82 L407.80,162.89 L408.30,162.00 L408.80,161.19 L409.30,160.50 L409.80,159.98 L410.30,159.65 L410.80,159.52 L411.30,159.61 L411.80,159.92 L412.30,160.44 L412.80,161.13 L413.30,161.98 L413.80,162.94 L414.30,163.97 L414.80,165.01 L415.30,166.02 L415.80,166.95 L416.30,167.74 L416.80,168.36 L417.30,168.77 L417.80,168.96 L418.30,168.90 L418.80,168.60 L419.30,168.07 L419.80,167.33 L420.30,166.43 L420.80,165.39 L421.30,164.28 L421.80,163.15 L422.30,162.05 L422.80,161.05 L423.30,160.18 L423.80,159.50 L424.30,159.04 L424.80,158.82 L425.30,158.85 L425.80,159.13 L426.30,159.65 L426.80,160.37 L427.30,161.28 L427.80,162.32 L428.30,163.45 L428.80,164.62 L429.30,165.77 L429.80,166.85 L430.30,167.80 L430.80,168.58 L431.30,169.15 L431.80,169.48 L432.30,169.55 L432.80,169.34 L433.30,168.87 L433.80,168.16 L434.30,167.23 L434.80,166.12 L435.30,164.89 L435.80,163.59 L436.30,162.29 L436.80,161.05 L437.30,159.93 L437.80,158.98 L438.30,158.27 L438.80,157.82 L439.30,157.67 L439.80,157.83 L440.30,158.29 L440.80,159.05 L441.30,160.06 L441.80,161.29 L442.30,162.67 L442.80,164.13 L443.30,165.62 L443.80,167.05 L444.30,168.35 L444.80,169.46 L445.30,170.31 L445.80,170.86 L446.30,171.08 L446.80,170.96 L447.30,170.49 L447.80,169.70 L448.30,168.61 L448.80,167.29 L449.30,165.80 L449.80,164.21 L450.30,162.60 L450.80,161.04 L451.30,159.63 L451.80,158.43 L452.30,157.49 L452.80,156.88 L453.30,156.61 L453.80,156.71 L454.30,157.17 L454.80,157.96 L455.30,159.04 L455.80,160.36 L456.30,161.85 L456.80,163.44 L457.30,165.04 L457.80,166.58 L458.30,167.97 L458.80,169.17 L459.30,170.09 L459.80,170.72 L460.30,171.01 L460.80,170.96 L461.30,170.57 L461.80,169.86 L462.30,168.89 L462.80,167.68 L463.30,166.31 L463.80,164.85 L464.30,163.36 L464.80,161.92 L465.30,160.59 L465.80,159.44 L466.30,158.52 L466.80,157.86 L467.30,157.51 L467.80,157.48 L468.30,157.75 L468.80,158.32 L469.30,159.17 L469.80,160.24 L470.30,161.50 L470.80,162.87 L471.30,164.30 L471.80,165.70 L472.30,167.00 L472.80,168.13 L473.30,169.04 L473.80,169.68 L474.30,170.02 L474.80,170.06 L475.30,169.80 L475.80,169.27 L476.30,168.49 L476.80,167.51 L477.30,166.40 L477.80,165.21 L478.30,164.01 L478.80,162.86 L479.30,161.80 L479.80,160.90 L480.30,160.19 L480.80,159.70 L481.30,159.43 L481.80,159.40 L482.30,159.59 L482.80,159.99 L483.30,160.55 L483.80,161.26 L484.30,162.06 L484.80,162.93 L485.30,163.80 L485.80,164.65 L486.30,165.44 L486.80,166.13 L487.30,166.70 L487.80,167.13 L488.30,167.41 L488.80,167.52 L489.30,167.47 L489.80,167.27 L490.30,166.91 L490.80,166.41 L491.30,165.80 L491.80,165.10 L492.30,164.35 L492.80,163.58 L493.30,162.84 L493.80,162.16 L494.30,161.58 L494.80,161.13 L495.30,160.82 L495.80,160.66 L496.30,160.68 L496.80,160.85 L497.30,161.18 L497.80,161.64 L498.30,162.20 L498.80,162.85 L499.30,163.53 L499.80,164.23 L500.30,164.90 L500.80,165.51 L501.30,166.04 L501.80,166.45 L502.30,166.74 L502.80,166.89 L503.30,166.89 L503.80,166.75 L504.30,166.49 L504.80,166.11 L505.30,165.63 L505.80,165.10 L506.30,164.52 L506.80,163.94 L507.30,163.37 L507.80,162.85 L508.30,162.41 L508.80,162.05 L509.30,161.80 L509.80,161.66 L510.30,161.64 L510.80,161.73 L511.30,161.93 L511.80,162.22 L512.30,162.59 L512.80,163.02 L513.30,163.48 L513.80,163.95 L514.30,164.41 L514.80,164.84 L515.30,165.21 L515.80,165.52 L516.30,165.75 L516.80,165.89 L517.30,165.93 L517.80,165.88 L518.30,165.75 L518.80,165.53 L519.30,165.25 L519.80,164.91 L520.30,164.53 L520.80,164.13 L521.30,163.73 L521.80,163.35 L522.30,163.00 L522.80,162.70" fill="none" stroke="#2f71b8" stroke-width="1.4" />
<text x="360" y="183.2" font-size="7" fill="#2a2e32" font-weight="normal" text-anchor="start" textLength="79.8" lengthAdjust="spacingAndGlyphs" stroke="#2a2e32" stroke-width="0.154" >LOW DYNAMIC FORCE WAVE</text>
<path d="M357,181 L340.6,181 L340.6,173" fill="none" stroke="#1f2326" stroke-width="0.9" />
<path d="M338.4,174 L340.6,170.5 L342.8,174 Z" fill="#1f2326" />
<path d="M442,181 L453.4,181 L453.4,173" fill="none" stroke="#1f2326" stroke-width="0.9" />
<path d="M451.2,174 L453.4,170.5 L455.6,174 Z" fill="#1f2326" />
<rect x="277.3" y="300" width="245.9" height="101.2" rx="0" fill="#d6d2cb" />
<rect x="277.3" y="300" width="245.9" height="16" rx="0" fill="#d7dde1" />
<rect x="277.3" y="316" width="245.9" height="11.6" rx="0" fill="url(#hatch)" />
<path d="M277.3,315.6 Q300,316 320,318 T400,316 T460,316.5 T523.2,316.7" fill="none" stroke="#8f8e8b" stroke-width="0.7" />
<path d="M277.3,327.7 Q310,326 340,328 T400,327 T460,327.5 T523.2,327" fill="none" stroke="#8f8e8b" stroke-width="0.7" />
<path d="M277.3,290.2 L290,289.8 L314,289.4 L325,293 L345,292.2 L370,291.5 L400,289.7 L440,290.5 L470,291 L477,293.3 L485,291 L493,290.5 L523.2,291.7 L523.2,302.7 L500,302 L480,301.9 L440,302 L420,301.5 L400,302 L385,303 L375,305.5 L362,305 L352,302.5 L340,302 L333,306.6 L322,305.5 L317,301.5 L300,301 L277.3,301 Z" fill="#63676b" stroke="#45494d" stroke-width="0.6" />
<path d="M283,302 L281.5,306 L283,309.5" fill="none" stroke="#4f5357" stroke-width="0.6" />
<path d="M305,305 L312,304 L316,302" fill="none" stroke="#4f5357" stroke-width="0.6" />
<path d="M321,306 L320,310 L322,313" fill="none" stroke="#4f5357" stroke-width="0.6" />
<path d="M335,306 L338,304" fill="none" stroke="#4f5357" stroke-width="0.6" />
<path d="M415,302 L414,306 L415.5,309" fill="none" stroke="#4f5357" stroke-width="0.6" />
<path d="M451,302 L452,305" fill="none" stroke="#4f5357" stroke-width="0.6" />
<path d="M498,302 L501,306 L508,310" fill="none" stroke="#4f5357" stroke-width="0.6" />
<path d="M470,294 L480,297 L487,298" fill="none" stroke="#4f5357" stroke-width="0.6" />
<path d="M486,295 L490,300" fill="none" stroke="#4f5357" stroke-width="0.6" />
<path d="M489,293 L500,296" fill="none" stroke="#4f5357" stroke-width="0.6" />
<text x="366.8" y="298.8" font-size="7.2" fill="#eef1f3" font-weight="normal" text-anchor="start" textLength="66" lengthAdjust="spacingAndGlyphs" stroke="#eef1f3" stroke-width="0.15839999999999999" >ROUGH ROAD SURFACE</text>
<line x1="277.3" y1="339.4" x2="523.2" y2="339.4" stroke="#93c5a3" stroke-width="1.2"/>
<path d="M277.30,337.90 L277.72,338.23 L278.14,339.11 L278.56,340.19 L278.98,341.07 L279.40,341.40 L279.81,341.35 L280.23,341.18 L280.64,340.92 L281.05,340.57 L281.47,340.15 L281.88,339.67 L282.29,339.16 L282.71,338.64 L283.12,338.13 L283.53,337.65 L283.95,337.23 L284.36,336.88 L284.77,336.62 L285.19,336.45 L285.60,336.40 L286.01,336.45 L286.43,336.62 L286.84,336.88 L287.25,337.23 L287.67,337.65 L288.08,338.13 L288.49,338.64 L288.91,339.16 L289.32,339.67 L289.73,340.15 L290.15,340.57 L290.56,340.92 L290.97,341.18 L291.39,341.35 L291.80,341.40 L292.21,341.35 L292.63,341.18 L293.04,340.92 L293.45,340.57 L293.87,340.15 L294.28,339.67 L294.69,339.16 L295.11,338.64 L295.52,338.13 L295.93,337.65 L296.35,337.23 L296.76,336.88 L297.17,336.62 L297.59,336.45 L298.00,336.40 L298.41,336.45 L298.83,336.62 L299.24,336.88 L299.65,337.23 L300.07,337.65 L300.48,338.13 L300.89,338.64 L301.31,339.16 L301.72,339.67 L302.13,340.15 L302.55,340.57 L302.96,340.92 L303.37,341.18 L303.79,341.35 L304.20,341.40 L304.61,341.35 L305.03,341.18 L305.44,340.92 L305.85,340.57 L306.27,340.15 L306.68,339.67 L307.09,339.16 L307.51,338.64 L307.92,338.13 L308.33,337.65 L308.75,337.23 L309.16,336.88 L309.57,336.62 L309.99,336.45 L310.40,336.40 L310.81,336.46 L311.23,336.64 L311.64,336.93 L312.05,337.31 L312.47,337.77 L312.88,338.30 L313.29,338.86 L313.71,339.44 L314.12,340.00 L314.53,340.52 L314.95,340.99 L315.36,341.37 L315.77,341.66 L316.19,341.84 L316.60,341.90 L317.01,341.78 L317.43,341.42 L317.84,340.85 L318.25,340.08 L318.67,339.15 L319.08,338.10 L319.49,336.97 L319.91,335.83 L320.32,334.70 L320.73,333.65 L321.15,332.72 L321.56,331.95 L321.97,331.38 L322.39,331.02 L322.80,330.90 L323.21,331.16 L323.63,331.92 L324.04,333.16 L324.45,334.82 L324.87,336.82 L325.28,339.09 L325.69,341.51 L326.11,343.99 L326.52,346.41 L326.93,348.67 L327.35,350.68 L327.76,352.34 L328.17,353.58 L328.59,354.34 L329.00,354.60 L329.43,354.17 L329.85,352.90 L330.28,350.85 L330.71,348.10 L331.13,344.77 L331.56,341.02 L331.99,337.00 L332.41,332.90 L332.84,328.88 L333.27,325.12 L333.69,321.80 L334.12,319.05 L334.55,317.00 L334.97,315.73 L335.40,315.30 L335.81,315.86 L336.21,317.53 L336.62,320.23 L337.03,323.84 L337.43,328.20 L337.84,333.13 L338.25,338.40 L338.65,343.80 L339.06,349.07 L339.47,354.00 L339.87,358.36 L340.28,361.97 L340.69,364.67 L341.09,366.34 L341.50,366.90 L341.92,366.25 L342.34,364.33 L342.76,361.22 L343.18,357.06 L343.60,352.02 L344.02,346.34 L344.44,340.26 L344.86,334.04 L345.28,327.96 L345.70,322.27 L346.12,317.24 L346.54,313.08 L346.96,309.97 L347.38,308.05 L347.80,307.40 L348.21,308.05 L348.61,309.96 L349.02,313.05 L349.43,317.19 L349.83,322.20 L350.24,327.85 L350.65,333.91 L351.05,340.09 L351.46,346.15 L351.87,351.80 L352.27,356.81 L352.68,360.95 L353.09,364.04 L353.49,365.95 L353.90,366.60 L354.31,366.06 L354.71,364.48 L355.12,361.91 L355.53,358.48 L355.93,354.32 L356.34,349.64 L356.75,344.62 L357.15,339.48 L357.56,334.46 L357.97,329.77 L358.37,325.62 L358.78,322.19 L359.19,319.62 L359.59,318.04 L360.00,317.50 L360.42,317.97 L360.84,319.35 L361.26,321.59 L361.68,324.58 L362.10,328.20 L362.52,332.29 L362.94,336.66 L363.36,341.14 L363.78,345.51 L364.20,349.60 L364.62,353.22 L365.04,356.21 L365.46,358.45 L365.88,359.83 L366.30,360.30 L366.70,359.91 L367.10,358.76 L367.50,356.90 L367.90,354.41 L368.30,351.40 L368.70,348.00 L369.10,344.36 L369.50,340.64 L369.90,337.00 L370.30,333.60 L370.70,330.59 L371.10,328.10 L371.50,326.24 L371.90,325.09 L372.30,324.70 L372.72,324.94 L373.14,325.66 L373.56,326.82 L373.98,328.37 L374.40,330.25 L374.82,332.37 L375.24,334.64 L375.66,336.96 L376.08,339.23 L376.50,341.35 L376.92,343.23 L377.34,344.78 L377.76,345.94 L378.18,346.66 L378.60,346.90 L379.01,346.73 L379.41,346.23 L379.82,345.42 L380.23,344.34 L380.64,343.05 L381.04,341.61 L381.45,340.10 L381.86,338.59 L382.26,337.15 L382.67,335.86 L383.08,334.78 L383.49,333.97 L383.89,333.47 L384.30,333.30 L384.71,333.40 L385.13,333.71 L385.54,334.22 L385.95,334.89 L386.37,335.70 L386.78,336.62 L387.19,337.60 L387.61,338.60 L388.02,339.58 L388.43,340.50 L388.85,341.31 L389.26,341.98 L389.67,342.49 L390.09,342.80 L390.50,342.90 L390.91,342.83 L391.31,342.64 L391.72,342.33 L392.13,341.91 L392.53,341.40 L392.94,340.83 L393.35,340.21 L393.75,339.59 L394.16,338.97 L394.57,338.40 L394.97,337.89 L395.38,337.47 L395.79,337.16 L396.19,336.97 L396.60,336.90 L397.03,336.95 L397.45,337.09 L397.88,337.33 L398.31,337.64 L398.73,338.02 L399.16,338.45 L399.59,338.91 L400.01,339.39 L400.44,339.85 L400.87,340.27 L401.29,340.66 L401.72,340.97 L402.15,341.21 L402.57,341.35 L403.00,341.40 L403.40,341.33 L403.80,341.12 L404.20,340.78 L404.60,340.32 L405.00,339.77 L405.40,339.15 L405.80,338.49 L406.20,337.81 L406.60,337.15 L407.00,336.52 L407.40,335.98 L407.80,335.52 L408.20,335.18 L408.60,334.97 L409.00,334.90 L409.40,334.97 L409.80,335.19 L410.20,335.54 L410.60,336.01 L411.00,336.59 L411.40,337.26 L411.80,337.99 L412.20,338.76 L412.60,339.54 L413.00,340.31 L413.40,341.04 L413.80,341.71 L414.20,342.29 L414.60,342.76 L415.00,343.11 L415.40,343.33 L415.80,343.40 L416.22,343.27 L416.64,342.89 L417.06,342.26 L417.48,341.42 L417.89,340.40 L418.31,339.23 L418.73,337.97 L419.15,336.65 L419.57,335.33 L419.99,334.07 L420.41,332.90 L420.82,331.88 L421.24,331.04 L421.66,330.41 L422.08,330.03 L422.50,329.90 L422.92,330.19 L423.35,331.05 L423.77,332.41 L424.19,334.22 L424.62,336.35 L425.04,338.69 L425.46,341.11 L425.88,343.45 L426.31,345.58 L426.73,347.39 L427.15,348.75 L427.58,349.61 L428.00,349.90 L428.41,349.57 L428.81,348.58 L429.22,346.98 L429.62,344.81 L430.03,342.15 L430.44,339.09 L430.84,335.74 L431.25,332.20 L431.65,328.60 L432.06,325.06 L432.46,321.71 L432.87,318.65 L433.28,315.99 L433.68,313.82 L434.09,312.22 L434.49,311.23 L434.90,310.90 L435.30,311.63 L435.70,313.79 L436.10,317.27 L436.50,321.89 L436.90,327.43 L437.30,333.60 L437.70,340.10 L438.10,346.60 L438.50,352.77 L438.90,358.31 L439.30,362.93 L439.70,366.41 L440.10,368.57 L440.50,369.30 L440.90,368.75 L441.30,367.13 L441.70,364.49 L442.10,360.92 L442.50,356.54 L442.90,351.51 L443.30,345.98 L443.70,340.16 L444.10,334.24 L444.50,328.42 L444.90,322.89 L445.30,317.86 L445.70,313.48 L446.10,309.91 L446.50,307.27 L446.90,305.65 L447.30,305.10 L447.73,305.93 L448.16,308.39 L448.59,312.32 L449.02,317.50 L449.45,323.62 L449.88,330.34 L450.32,337.26 L450.75,343.98 L451.18,350.10 L451.61,355.28 L452.04,359.21 L452.47,361.67 L452.90,362.50 L453.32,362.00 L453.74,360.54 L454.16,358.15 L454.57,354.94 L454.99,351.03 L455.41,346.57 L455.83,341.73 L456.25,336.70 L456.67,331.67 L457.09,326.83 L457.51,322.37 L457.93,318.46 L458.34,315.25 L458.76,312.86 L459.18,311.40 L459.60,310.90 L460.01,311.38 L460.41,312.78 L460.82,315.05 L461.23,318.05 L461.64,321.66 L462.04,325.67 L462.45,329.90 L462.86,334.13 L463.26,338.14 L463.67,341.75 L464.08,344.75 L464.49,347.02 L464.89,348.42 L465.30,348.90 L465.72,348.62 L466.14,347.78 L466.56,346.44 L466.98,344.63 L467.40,342.45 L467.82,339.99 L468.24,337.35 L468.66,334.65 L469.08,332.01 L469.50,329.55 L469.92,327.37 L470.34,325.56 L470.76,324.22 L471.18,323.38 L471.60,323.10 L472.03,323.33 L472.45,324.00 L472.88,325.09 L473.31,326.54 L473.73,328.30 L474.16,330.29 L474.59,332.41 L475.01,334.59 L475.44,336.71 L475.87,338.70 L476.29,340.46 L476.72,341.91 L477.15,343.00 L477.57,343.67 L478.00,343.90 L478.43,343.77 L478.85,343.38 L479.28,342.75 L479.71,341.91 L480.13,340.90 L480.56,339.75 L480.99,338.53 L481.41,337.27 L481.84,336.05 L482.27,334.90 L482.69,333.89 L483.12,333.05 L483.55,332.42 L483.97,332.03 L484.40,331.90 L484.81,332.02 L485.23,332.38 L485.64,332.95 L486.05,333.72 L486.47,334.65 L486.88,335.70 L487.29,336.83 L487.71,337.97 L488.12,339.10 L488.53,340.15 L488.95,341.08 L489.36,341.85 L489.77,342.42 L490.19,342.78 L490.60,342.90 L491.01,342.82 L491.43,342.58 L491.84,342.18 L492.25,341.66 L492.67,341.02 L493.08,340.31 L493.49,339.54 L493.91,338.76 L494.32,337.99 L494.73,337.27 L495.15,336.64 L495.56,336.12 L495.97,335.72 L496.39,335.48 L496.80,335.40 L497.21,335.47 L497.63,335.68 L498.04,336.02 L498.45,336.48 L498.87,337.02 L499.28,337.65 L499.69,338.31 L500.11,338.99 L500.52,339.65 L500.93,340.27 L501.35,340.82 L501.76,341.28 L502.17,341.62 L502.59,341.83 L503.00,341.90 L503.41,341.84 L503.83,341.66 L504.24,341.37 L504.65,340.99 L505.07,340.52 L505.48,340.00 L505.89,339.44 L506.31,338.86 L506.72,338.30 L507.13,337.77 L507.55,337.31 L507.96,336.93 L508.37,336.64 L508.79,336.46 L509.20,336.40 L509.61,336.45 L510.03,336.62 L510.44,336.88 L510.85,337.23 L511.27,337.65 L511.68,338.13 L512.09,338.64 L512.51,339.16 L512.92,339.67 L513.33,340.15 L513.75,340.57 L514.16,340.92 L514.57,341.18 L514.99,341.35 L515.40,341.40 L515.81,341.35 L516.23,341.21 L516.64,340.97 L517.05,340.66 L517.47,340.27 L517.88,339.85 L518.29,339.39 L518.71,338.91 L519.12,338.45 L519.53,338.02 L519.95,337.64 L520.36,337.33 L520.77,337.09 L521.19,336.95 L521.60,336.90 L522.00,337.19 L522.40,337.90 L522.80,338.61 L523.20,338.90" fill="none" stroke="#4a95c0" stroke-width="1.1" />
<path d="M319.91,335.83 L320.32,334.70 L320.73,333.65 L321.15,332.72 L321.56,331.95 L321.97,331.38 L322.39,331.02 L322.80,330.90 L323.21,331.16 L323.63,331.92 L324.04,333.16 L324.45,334.82 L324.87,336.82 L325.28,339.09 L325.69,341.51 L326.11,343.99 L326.52,346.41 L326.93,348.67 L327.35,350.68 L327.76,352.34 L328.17,353.58 L328.59,354.34 L329.00,354.60 L329.43,354.17 L329.85,352.90 L330.28,350.85 L330.71,348.10 L331.13,344.77 L331.56,341.02 L331.99,337.00 L332.41,332.90 L332.84,328.88 L333.27,325.12 L333.69,321.80 L334.12,319.05 L334.55,317.00 L334.97,315.73 L335.40,315.30 L335.81,315.86 L336.21,317.53 L336.62,320.23 L337.03,323.84 L337.43,328.20 L337.84,333.13 L338.25,338.40 L338.65,343.80 L339.06,349.07 L339.47,354.00 L339.87,358.36 L340.28,361.97 L340.69,364.67 L341.09,366.34 L341.50,366.90 L341.92,366.25 L342.34,364.33 L342.76,361.22 L343.18,357.06 L343.60,352.02 L344.02,346.34 L344.44,340.26 L344.86,334.04 L345.28,327.96 L345.70,322.27 L346.12,317.24 L346.54,313.08 L346.96,309.97 L347.38,308.05 L347.80,307.40 L348.21,308.05 L348.61,309.96 L349.02,313.05 L349.43,317.19 L349.83,322.20 L350.24,327.85 L350.65,333.91 L351.05,340.09 L351.46,346.15 L351.87,351.80 L352.27,356.81 L352.68,360.95 L353.09,364.04 L353.49,365.95 L353.90,366.60 L354.31,366.06 L354.71,364.48 L355.12,361.91 L355.53,358.48 L355.93,354.32 L356.34,349.64 L356.75,344.62 L357.15,339.48 L357.56,334.46 L357.97,329.77 L358.37,325.62 L358.78,322.19 L359.19,319.62 L359.59,318.04 L360.00,317.50 L360.42,317.97 L360.84,319.35 L361.26,321.59 L361.68,324.58 L362.10,328.20 L362.52,332.29 L362.94,336.66 L363.36,341.14 L363.78,345.51 L364.20,349.60 L364.62,353.22 L365.04,356.21 L365.46,358.45 L365.88,359.83 L366.30,360.30 L366.70,359.91 L367.10,358.76 L367.50,356.90 L367.90,354.41 L368.30,351.40 L368.70,348.00 L369.10,344.36 L369.50,340.64 L369.90,337.00 L370.30,333.60 L370.70,330.59 L371.10,328.10 L371.50,326.24 L371.90,325.09 L372.30,324.70 L372.72,324.94 L373.14,325.66 L373.56,326.82 L373.98,328.37 L374.40,330.25 L374.82,332.37 L375.24,334.64 L375.66,336.96 L376.08,339.23 L376.50,341.35 L376.92,343.23 L377.34,344.78 L377.76,345.94 L378.18,346.66 L378.60,346.90 L379.01,346.73 L379.41,346.23 L379.82,345.42 L380.23,344.34 L380.64,343.05 L381.04,341.61 L381.45,340.10 L381.45,338.9 L319.91,338.9 Z" fill="url(#flame)" stroke="#c9372a" stroke-width="0.8" />
<path d="M418.73,337.97 L419.15,336.65 L419.57,335.33 L419.99,334.07 L420.41,332.90 L420.82,331.88 L421.24,331.04 L421.66,330.41 L422.08,330.03 L422.50,329.90 L422.92,330.19 L423.35,331.05 L423.77,332.41 L424.19,334.22 L424.62,336.35 L425.04,338.69 L425.46,341.11 L425.88,343.45 L426.31,345.58 L426.73,347.39 L427.15,348.75 L427.58,349.61 L428.00,349.90 L428.41,349.57 L428.81,348.58 L429.22,346.98 L429.62,344.81 L430.03,342.15 L430.44,339.09 L430.84,335.74 L431.25,332.20 L431.65,328.60 L432.06,325.06 L432.46,321.71 L432.87,318.65 L433.28,315.99 L433.68,313.82 L434.09,312.22 L434.49,311.23 L434.90,310.90 L435.30,311.63 L435.70,313.79 L436.10,317.27 L436.50,321.89 L436.90,327.43 L437.30,333.60 L437.70,340.10 L438.10,346.60 L438.50,352.77 L438.90,358.31 L439.30,362.93 L439.70,366.41 L440.10,368.57 L440.50,369.30 L440.90,368.75 L441.30,367.13 L441.70,364.49 L442.10,360.92 L442.50,356.54 L442.90,351.51 L443.30,345.98 L443.70,340.16 L444.10,334.24 L444.50,328.42 L444.90,322.89 L445.30,317.86 L445.70,313.48 L446.10,309.91 L446.50,307.27 L446.90,305.65 L447.30,305.10 L447.73,305.93 L448.16,308.39 L448.59,312.32 L449.02,317.50 L449.45,323.62 L449.88,330.34 L450.32,337.26 L450.75,343.98 L451.18,350.10 L451.61,355.28 L452.04,359.21 L452.47,361.67 L452.90,362.50 L453.32,362.00 L453.74,360.54 L454.16,358.15 L454.57,354.94 L454.99,351.03 L455.41,346.57 L455.83,341.73 L456.25,336.70 L456.67,331.67 L457.09,326.83 L457.51,322.37 L457.93,318.46 L458.34,315.25 L458.76,312.86 L459.18,311.40 L459.60,310.90 L460.01,311.38 L460.41,312.78 L460.82,315.05 L461.23,318.05 L461.64,321.66 L462.04,325.67 L462.45,329.90 L462.86,334.13 L463.26,338.14 L463.67,341.75 L464.08,344.75 L464.49,347.02 L464.89,348.42 L465.30,348.90 L465.72,348.62 L466.14,347.78 L466.56,346.44 L466.98,344.63 L467.40,342.45 L467.82,339.99 L468.24,337.35 L468.66,334.65 L469.08,332.01 L469.50,329.55 L469.92,327.37 L470.34,325.56 L470.76,324.22 L471.18,323.38 L471.60,323.10 L472.03,323.33 L472.45,324.00 L472.88,325.09 L473.31,326.54 L473.73,328.30 L474.16,330.29 L474.59,332.41 L475.01,334.59 L475.44,336.71 L475.87,338.70 L476.29,340.46 L476.72,341.91 L477.15,343.00 L477.57,343.67 L478.00,343.90 L478.00,338.9 L418.73,338.9 Z" fill="url(#flame)" stroke="#c9372a" stroke-width="0.8" />
<text x="358.8" y="379" font-size="7" fill="#2a2e32" font-weight="normal" text-anchor="start" textLength="80.9" lengthAdjust="spacingAndGlyphs" stroke="#2a2e32" stroke-width="0.154" >HIGH DYNAMIC FORCE WAVE</text>
<path d="M356,377 L348,377 L348,368" fill="none" stroke="#1f2326" stroke-width="0.9" />
<path d="M345.8,369 L348,365.5 L350.2,369 Z" fill="#1f2326" />
<path d="M441,377 L448,377 L448,368" fill="none" stroke="#1f2326" stroke-width="0.9" />
<path d="M445.8,369 L448,365.5 L450.2,369 Z" fill="#1f2326" />
<rect x="318.8" y="85" width="116.2" height="37.2" rx="0" fill="#8c9da9" stroke="#4f5c65" stroke-width="0.8" />
<rect x="324" y="124" width="118" height="7.2" rx="0" fill="#6c7b86" stroke="#4f5c65" stroke-width="0.6" />
<rect x="411" y="126" width="22.5" height="9.8" rx="1.5" fill="#8c9da9" stroke="#4f5c65" stroke-width="0.6" />
<path d="M439.6,95.7 L463,95.7 Q466,95.7 467,97.7 L474.5,113.7 L475.3,131.8 Q475.3,134.8 472.5,134.8 L439.6,134.8 Z" fill="#8c9da9" stroke="#4f5c65" stroke-width="0.8" />
<path d="M452.8,99.7 L465.5,99.7 L469.5,111.7 L453.2,108.7 Z" fill="#d4dde2" stroke="#4f5c65" stroke-width="0.6" />
<path d="M334.24,133.43 A10.0,10.0 0 0 1 354.16,133.43" fill="none" stroke="#eef2f5" stroke-width="1.7" />
<path d="M333.68,130.47 A11.2,11.2 0 0 1 354.72,130.47" fill="none" stroke="#4f5c65" stroke-width="0.7" />
<circle cx="344.2" cy="134.3" r="9.2" fill="#50565a" stroke="#2c3134" stroke-width="0.6" />
<circle cx="344.2" cy="134.3" r="4.784" fill="#a9b8c1" stroke="#6f777a" stroke-width="0.5" />
<circle cx="344.2" cy="134.3" r="1.656" fill="#8a9296" />
<path d="M355.04,133.43 A10.0,10.0 0 0 1 374.96,133.43" fill="none" stroke="#eef2f5" stroke-width="1.7" />
<path d="M354.48,130.47 A11.2,11.2 0 0 1 375.52,130.47" fill="none" stroke="#4f5c65" stroke-width="0.7" />
<circle cx="365" cy="134.3" r="9.2" fill="#50565a" stroke="#2c3134" stroke-width="0.6" />
<circle cx="365" cy="134.3" r="4.784" fill="#a9b8c1" stroke="#6f777a" stroke-width="0.5" />
<circle cx="365" cy="134.3" r="1.656" fill="#8a9296" />
<path d="M442.54,133.43 A10.0,10.0 0 0 1 462.46,133.43" fill="none" stroke="#eef2f5" stroke-width="1.7" />
<path d="M441.98,130.47 A11.2,11.2 0 0 1 463.02,130.47" fill="none" stroke="#4f5c65" stroke-width="0.7" />
<circle cx="452.5" cy="134.3" r="9.2" fill="#50565a" stroke="#2c3134" stroke-width="0.6" />
<circle cx="452.5" cy="134.3" r="4.784" fill="#a9b8c1" stroke="#6f777a" stroke-width="0.5" />
<circle cx="452.5" cy="134.3" r="1.656" fill="#8a9296" />
<rect x="318.8" y="232.5" width="116.2" height="37.2" rx="0" fill="#8c9da9" stroke="#4f5c65" stroke-width="0.8" />
<rect x="324" y="271.5" width="118" height="7.2" rx="0" fill="#6c7b86" stroke="#4f5c65" stroke-width="0.6" />
<rect x="411" y="273.5" width="22.5" height="9.8" rx="1.5" fill="#8c9da9" stroke="#4f5c65" stroke-width="0.6" />
<path d="M439.6,243.2 L463,243.2 Q466,243.2 467,245.2 L474.5,261.2 L475.3,279.3 Q475.3,282.3 472.5,282.3 L439.6,282.3 Z" fill="#8c9da9" stroke="#4f5c65" stroke-width="0.8" />
<path d="M452.8,247.2 L465.5,247.2 L469.5,259.2 L453.2,256.2 Z" fill="#d4dde2" stroke="#4f5c65" stroke-width="0.6" />
<path d="M334.24,280.93 A10.0,10.0 0 0 1 354.16,280.93" fill="none" stroke="#eef2f5" stroke-width="1.7" />
<path d="M333.68,277.97 A11.2,11.2 0 0 1 354.72,277.97" fill="none" stroke="#4f5c65" stroke-width="0.7" />
<circle cx="344.2" cy="281.8" r="9.2" fill="#50565a" stroke="#2c3134" stroke-width="0.6" />
<circle cx="344.2" cy="281.8" r="4.784" fill="#a9b8c1" stroke="#6f777a" stroke-width="0.5" />
<circle cx="344.2" cy="281.8" r="1.656" fill="#8a9296" />
<path d="M355.04,280.93 A10.0,10.0 0 0 1 374.96,280.93" fill="none" stroke="#eef2f5" stroke-width="1.7" />
<path d="M354.48,277.97 A11.2,11.2 0 0 1 375.52,277.97" fill="none" stroke="#4f5c65" stroke-width="0.7" />
<circle cx="365" cy="281.8" r="9.2" fill="#50565a" stroke="#2c3134" stroke-width="0.6" />
<circle cx="365" cy="281.8" r="4.784" fill="#a9b8c1" stroke="#6f777a" stroke-width="0.5" />
<circle cx="365" cy="281.8" r="1.656" fill="#8a9296" />
<path d="M442.54,280.93 A10.0,10.0 0 0 1 462.46,280.93" fill="none" stroke="#eef2f5" stroke-width="1.7" />
<path d="M441.98,277.97 A11.2,11.2 0 0 1 463.02,277.97" fill="none" stroke="#4f5c65" stroke-width="0.7" />
<circle cx="452.5" cy="281.8" r="9.2" fill="#50565a" stroke="#2c3134" stroke-width="0.6" />
<circle cx="452.5" cy="281.8" r="4.784" fill="#a9b8c1" stroke="#6f777a" stroke-width="0.5" />
<circle cx="452.5" cy="281.8" r="1.656" fill="#8a9296" />
<rect x="291.7" y="110.9" width="16.5" height="3.2" fill="url(#arrB)"/>
<path d="M308.2,108.3 L315.2,112.5 L308.2,116.7 Z" fill="#7d909d" />
<rect x="479" y="110.9" width="15.800000000000011" height="3.2" fill="url(#arrB)"/>
<path d="M494.8,108.3 L501.8,112.5 L494.8,116.7 Z" fill="#7d909d" />
<rect x="291.5" y="257.9" width="16.69999999999999" height="3.2" fill="url(#arrB)"/>
<path d="M308.2,255.3 L315.2,259.5 L308.2,263.7 Z" fill="#7d909d" />
<rect x="478" y="258.0" width="16.80000000000001" height="3.2" fill="url(#arrB)"/>
<path d="M494.8,255.40000000000003 L501.8,259.6 L494.8,263.8 Z" fill="#7d909d" />
<rect x="454.2" y="347.2" width="68.4" height="54" rx="0" fill="#f6f7f8" stroke="#c5cbd0" stroke-width="0.7" filter="url(#sh)"/>
<line x1="462.3" y1="350.7" x2="462.3" y2="394.2" stroke="#5a5f63" stroke-width="0.6"/>
<line x1="462.3" y1="394.2" x2="519.4" y2="394.2" stroke="#5a5f63" stroke-width="0.6"/>
<line x1="462.3" y1="369" x2="519.4" y2="369" stroke="#dfe3e6" stroke-width="0.5"/>
<path d="M462.50,359.80 L463.00,360.21 L463.50,360.27 L464.00,359.94 L464.50,359.49 L465.00,359.30 L465.50,359.52 L466.00,359.98 L466.50,360.28 L467.00,360.18 L467.50,359.76 L468.00,359.37 L468.50,359.34 L469.00,359.69 L469.50,360.13 L470.00,360.30 L470.50,360.04 L471.00,359.59 L471.50,359.31 L472.00,359.44 L472.50,359.87 L473.00,360.25 L473.50,360.24 L474.00,359.87 L474.50,359.44 L475.00,359.31 L475.50,359.59 L476.00,360.05 L476.50,360.30 L477.00,360.13 L477.50,359.69 L478.00,359.34 L478.50,359.38 L479.00,359.77 L479.50,360.19 L480.00,360.28 L480.50,359.97 L481.00,359.52 L481.50,359.30 L482.00,359.50 L482.50,359.95 L483.00,360.27 L483.50,360.20 L484.00,359.80 L484.50,359.39 L485.00,359.33 L485.50,359.66 L486.00,360.11 L486.50,360.30 L487.00,360.07 L487.50,359.62 L488.00,359.31 L488.50,359.42 L489.00,359.84 L489.50,360.23 L490.00,360.26 L490.50,359.90 L491.00,359.46 L491.50,359.30 L492.00,359.56 L492.50,360.02 L493.00,360.29 L493.50,360.16 L494.00,359.72 L494.50,359.35 L495.00,359.36 L495.50,359.73 L496.00,360.16 L496.50,360.29 L497.00,360.01 L497.50,359.55 L498.00,359.30 L498.50,359.47 L499.00,359.92 L499.50,360.26 L500.00,360.22 L500.50,359.83 L501.00,359.41 L501.50,359.32 L502.00,359.63 L502.50,360.08 L503.00,360.30 L503.50,360.10 L504.00,359.65 L504.50,359.32 L505.00,359.40 L505.50,359.81 L506.00,360.21 L506.50,360.27 L507.00,359.93 L507.50,359.49 L508.00,359.30 L508.50,359.53 L509.00,359.99 L509.50,360.29 L510.00,360.18 L510.50,359.75 L511.00,359.37 L511.50,359.34 L512.00,359.70 L512.50,360.14 L513.00,360.30 L513.50,360.04 L514.00,359.58 L514.50,359.31 L515.00,359.45 L515.50,359.88 L516.00,360.25 L516.50,360.24 L517.00,359.86 L517.50,359.43 L518.00,359.31 L518.50,359.60 L519.00,360.06" fill="none" stroke="#3a8fc4" stroke-width="0.9" />
<path d="M463.00,382.50 L464.65,386.00 L466.29,381.00 L467.94,388.00 L469.59,378.00 L471.24,392.00 L472.88,379.00 L474.53,391.00 L476.18,376.50 L477.82,388.00 L479.47,379.00 L481.12,387.00 L482.76,382.00 L484.41,385.50 L486.06,383.00 L487.71,385.00 L489.35,382.50 L491.00,385.00 L492.65,383.00 L494.29,385.50 L495.94,383.00 L497.59,386.00 L499.24,381.00 L500.88,389.00 L502.53,376.00 L504.18,391.00 L505.82,372.00 L507.47,393.00 L509.12,376.00 L510.76,394.00 L512.41,377.00 L514.06,390.00 L515.71,380.00 L517.35,387.00 L519.00,382.00" fill="none" stroke="#f0a070" stroke-width="1.8" stroke-linejoin="round"/>
<path d="M463.00,382.50 L464.65,386.00 L466.29,381.00 L467.94,388.00 L469.59,378.00 L471.24,392.00 L472.88,379.00 L474.53,391.00 L476.18,376.50 L477.82,388.00 L479.47,379.00 L481.12,387.00 L482.76,382.00 L484.41,385.50 L486.06,383.00 L487.71,385.00 L489.35,382.50 L491.00,385.00 L492.65,383.00 L494.29,385.50 L495.94,383.00 L497.59,386.00 L499.24,381.00 L500.88,389.00 L502.53,376.00 L504.18,391.00 L505.82,372.00 L507.47,393.00 L509.12,376.00 L510.76,394.00 L512.41,377.00 L514.06,390.00 L515.71,380.00 L517.35,387.00 L519.00,382.00" fill="none" stroke="#d24e30" stroke-width="0.8" stroke-linejoin="round"/>
<text x="490.7" y="399.4" font-size="4.6" fill="#333" font-weight="normal" text-anchor="middle" textLength="11" lengthAdjust="spacingAndGlyphs" stroke="#333" stroke-width="0.10119999999999998" >TIME</text>
<text x="0" y="0" font-size="4.4" fill="#333" stroke="#333" stroke-width="0.1" transform="translate(460.6,383.7) rotate(-90)" textLength="24" lengthAdjust="spacingAndGlyphs">FORCE vs. TIME</text>
<rect x="538" y="143" width="246.4" height="10.2" rx="0" fill="#65696d" />
<rect x="538" y="153.2" width="246.4" height="7.9" rx="0" fill="url(#hatch)" />
<rect x="538" y="161.1" width="246.4" height="10.9" rx="0" fill="#d9d5ce" />
<rect x="538" y="172" width="246.4" height="14" rx="0" fill="#d5d1ca" />
<line x1="538" y1="161.1" x2="784.4" y2="161.1" stroke="#8d8b87" stroke-width="0.6"/>
<line x1="538" y1="172" x2="784.4" y2="172" stroke="#8d8b87" stroke-width="0.6"/>
<rect x="538" y="285" width="246.4" height="116" rx="0" fill="#d6d2cb" />
<rect x="538" y="295.4" width="246.4" height="13.9" rx="0" fill="url(#hatch)" />
<rect x="538" y="309.3" width="246.4" height="12.2" rx="0" fill="#d3d9dd" />
<rect x="538" y="321.5" width="246.4" height="15.4" rx="0" fill="#d9d5ce" />
<rect x="538" y="285" width="246.4" height="10.4" rx="0" fill="#65696d" />
<path d="M546.17,285.00 C545.83,286.38 544.28,290.58 544.10,293.30 C543.92,296.02 544.18,298.97 545.10,301.30 C546.02,303.63 547.52,305.97 549.60,307.30 C551.68,308.63 554.93,309.30 557.60,309.30 C560.27,309.30 563.52,308.63 565.60,307.30 C567.68,305.97 569.18,303.63 570.10,301.30 C571.02,298.97 571.28,296.02 571.10,293.30 C570.92,290.58 569.38,286.38 569.03,285.00 Z" fill="#82b6d9" />
<path d="M546.80,285.00 C546.52,286.72 545.05,291.08 545.10,295.30 C545.15,299.52 546.18,305.63 547.10,310.30 C548.02,314.97 549.43,319.80 550.60,323.30 C551.77,326.80 552.93,329.30 554.10,331.30 C555.27,333.30 556.43,335.30 557.60,335.30 C558.77,335.30 559.93,333.30 561.10,331.30 C562.27,329.30 563.43,326.80 564.60,323.30 C565.77,319.80 567.18,314.97 568.10,310.30 C569.02,305.63 570.05,299.52 570.10,295.30 C570.15,291.08 568.68,286.72 568.40,285.00 Z" fill="#f3cd8e" />
<path d="M548.60,285.00 C548.35,286.72 546.77,291.08 547.10,295.30 C547.43,299.52 548.85,306.13 550.60,310.30 C552.35,314.47 555.27,320.30 557.60,320.30 C559.93,320.30 562.85,314.47 564.60,310.30 C566.35,306.13 567.77,299.52 568.10,295.30 C568.43,291.08 566.85,286.72 566.60,285.00 Z" fill="#f4b062" />
<path d="M549.50,285.00 C549.35,286.38 548.25,290.25 548.60,293.30 C548.95,296.35 550.10,300.63 551.60,303.30 C553.10,305.97 555.60,309.30 557.60,309.30 C559.60,309.30 562.10,305.97 563.60,303.30 C565.10,300.63 566.25,296.35 566.60,293.30 C566.95,290.25 565.85,286.38 565.70,285.00 Z" fill="#f18d3e" />
<path d="M551.30,285.00 C551.18,286.22 550.22,290.08 550.60,292.30 C550.98,294.52 552.43,296.80 553.60,298.30 C554.77,299.80 556.27,301.30 557.60,301.30 C558.93,301.30 560.43,299.80 561.60,298.30 C562.77,296.80 564.22,294.52 564.60,292.30 C564.98,290.08 564.02,286.22 563.90,285.00 Z" fill="#e65a2b" />
<path d="M553.10,285.00 C553.02,285.88 552.27,288.58 552.60,290.30 C552.93,292.02 554.27,294.13 555.10,295.30 C555.93,296.47 556.77,297.30 557.60,297.30 C558.43,297.30 559.27,296.47 560.10,295.30 C560.93,294.13 562.27,292.02 562.60,290.30 C562.93,288.58 562.18,285.88 562.10,285.00 Z" fill="#a61f2a" />
<path d="M581.06,285.00 C580.77,286.72 578.93,291.58 579.30,295.30 C579.67,299.02 581.80,303.63 583.30,307.30 C584.80,310.97 586.63,314.80 588.30,317.30 C589.97,319.80 591.63,322.30 593.30,322.30 C594.97,322.30 596.63,319.80 598.30,317.30 C599.97,314.80 601.80,310.97 603.30,307.30 C604.80,303.63 606.93,299.02 607.30,295.30 C607.67,291.58 605.83,286.72 605.54,285.00 Z" fill="#82b6d9" />
<path d="M582.05,285.00 C581.84,286.72 580.42,291.58 580.80,295.30 C581.17,299.02 582.88,303.30 584.30,307.30 C585.72,311.30 587.80,316.30 589.30,319.30 C590.80,322.30 591.97,325.30 593.30,325.30 C594.63,325.30 595.80,322.30 597.30,319.30 C598.80,316.30 600.88,311.30 602.30,307.30 C603.72,303.30 605.42,299.02 605.80,295.30 C606.17,291.58 604.76,286.72 604.55,285.00 Z" fill="#a9cfc0" />
<path d="M583.40,285.00 C583.22,286.72 581.90,291.58 582.30,295.30 C582.70,299.02 584.47,303.47 585.80,307.30 C587.13,311.13 589.05,315.30 590.30,318.30 C591.55,321.30 592.30,325.30 593.30,325.30 C594.30,325.30 595.05,321.30 596.30,318.30 C597.55,315.30 599.47,311.13 600.80,307.30 C602.13,303.47 603.90,299.02 604.30,295.30 C604.70,291.58 603.38,286.72 603.20,285.00 Z" fill="#f3cd8e" />
<path d="M585.20,285.00 C585.05,286.38 583.95,290.25 584.30,293.30 C584.65,296.35 585.80,299.97 587.30,303.30 C588.80,306.63 591.30,313.30 593.30,313.30 C595.30,313.30 597.80,306.63 599.30,303.30 C600.80,299.97 601.95,296.35 602.30,293.30 C602.65,290.25 601.55,286.38 601.40,285.00 Z" fill="#f4b062" />
<path d="M586.55,285.00 C586.42,286.22 585.42,289.75 585.80,292.30 C586.17,294.85 587.55,298.13 588.80,300.30 C590.05,302.47 591.80,305.30 593.30,305.30 C594.80,305.30 596.55,302.47 597.80,300.30 C599.05,298.13 600.42,294.85 600.80,292.30 C601.17,289.75 600.17,286.22 600.05,285.00 Z" fill="#f18d3e" />
<path d="M588.80,285.00 C588.72,285.88 588.05,288.58 588.30,290.30 C588.55,292.02 589.47,293.80 590.30,295.30 C591.13,296.80 592.30,299.30 593.30,299.30 C594.30,299.30 595.47,296.80 596.30,295.30 C597.13,293.80 598.05,292.02 598.30,290.30 C598.55,288.58 597.88,285.88 597.80,285.00 Z" fill="#e65a2b" />
<path d="M590.15,285.00 C590.09,285.72 589.27,288.08 589.80,289.30 C590.32,290.52 592.13,292.30 593.30,292.30 C594.47,292.30 596.27,290.52 596.80,289.30 C597.32,288.08 596.51,285.72 596.45,285.00 Z" fill="#d0302a" />
<path d="M619.84,285.00 C619.33,286.38 616.81,290.58 616.80,293.30 C616.79,296.02 617.63,298.97 619.80,301.30 C621.97,303.63 626.13,305.97 629.80,307.30 C633.47,308.63 637.80,309.30 641.80,309.30 C645.80,309.30 650.13,308.63 653.80,307.30 C657.47,305.97 661.63,303.63 663.80,301.30 C665.97,298.97 666.81,296.02 666.80,293.30 C666.79,290.58 664.27,286.38 663.76,285.00 Z" fill="#82b6d9" />
<path d="M620.70,285.00 C620.20,287.55 617.57,294.42 617.70,300.30 C617.83,306.18 619.95,314.80 621.50,320.30 C623.05,325.80 625.08,329.63 627.00,333.30 C628.92,336.97 630.75,339.55 633.00,342.30 C635.25,345.05 638.00,349.80 640.50,349.80 C643.00,349.80 645.75,345.05 648.00,342.30 C650.25,339.55 652.08,336.97 654.00,333.30 C655.92,329.63 657.95,325.80 659.50,320.30 C661.05,314.80 663.17,306.18 663.30,300.30 C663.43,294.42 660.80,287.55 660.30,285.00 Z" fill="#f3cd8e" />
<path d="M623.80,285.00 C623.47,287.05 621.47,293.08 621.80,297.30 C622.13,301.52 623.97,306.47 625.80,310.30 C627.63,314.13 630.13,317.80 632.80,320.30 C635.47,322.80 638.80,325.30 641.80,325.30 C644.80,325.30 648.13,322.80 650.80,320.30 C653.47,317.80 655.97,314.13 657.80,310.30 C659.63,306.47 661.47,301.52 661.80,297.30 C662.13,293.08 660.13,287.05 659.80,285.00 Z" fill="#f4b062" />
<path d="M625.60,285.00 C625.38,286.72 623.60,291.58 624.30,295.30 C625.00,299.02 627.72,303.97 629.80,307.30 C631.88,310.63 634.80,312.97 636.80,315.30 C638.80,317.63 640.13,321.30 641.80,321.30 C643.47,321.30 644.80,317.63 646.80,315.30 C648.80,312.97 651.72,310.63 653.80,307.30 C655.88,303.97 658.60,299.02 659.30,295.30 C660.00,291.58 658.22,286.72 658.00,285.00 Z" fill="#f18d3e" />
<path d="M628.30,285.00 C628.22,286.38 627.05,290.25 627.80,293.30 C628.55,296.35 630.47,300.47 632.80,303.30 C635.13,306.13 638.80,310.30 641.80,310.30 C644.80,310.30 648.47,306.13 650.80,303.30 C653.13,300.47 655.05,296.35 655.80,293.30 C656.55,290.25 655.38,286.38 655.30,285.00 Z" fill="#e65a2b" />
<path d="M631.00,285.00 C630.88,286.05 629.67,289.25 630.30,291.30 C630.93,293.35 632.88,295.63 634.80,297.30 C636.72,298.97 639.47,301.30 641.80,301.30 C644.13,301.30 646.88,298.97 648.80,297.30 C650.72,295.63 652.67,293.35 653.30,291.30 C653.93,289.25 652.72,286.05 652.60,285.00 Z" fill="#d0302a" />
<path d="M633.70,285.00 C633.63,285.88 632.62,288.58 633.30,290.30 C633.98,292.02 636.38,293.97 637.80,295.30 C639.22,296.63 640.47,298.30 641.80,298.30 C643.13,298.30 644.38,296.63 645.80,295.30 C647.22,293.97 649.62,292.02 650.30,290.30 C650.98,288.58 649.97,285.88 649.90,285.00 Z" fill="#a61f2a" />
<path d="M679.90,285.00 C678.83,286.72 673.73,291.92 673.50,295.30 C673.27,298.68 675.17,301.97 678.50,305.30 C681.83,308.63 685.17,312.80 693.50,315.30 C701.83,317.80 716.83,320.30 728.50,320.30 C740.17,320.30 755.17,317.80 763.50,315.30 C771.83,312.80 775.17,308.63 778.50,305.30 C781.83,301.97 783.73,298.68 783.50,295.30 C783.27,291.92 778.17,286.72 777.10,285.00 Z" fill="#82b6d9" />
<path d="M682.60,285.00 C681.42,287.55 675.52,293.58 675.50,300.30 C675.48,307.02 679.33,316.97 682.50,325.30 C685.67,333.63 690.50,342.80 694.50,350.30 C698.50,357.80 700.83,364.63 706.50,370.30 C712.17,375.97 721.17,384.30 728.50,384.30 C735.83,384.30 744.83,375.97 750.50,370.30 C756.17,364.63 758.50,357.80 762.50,350.30 C766.50,342.80 771.33,333.63 774.50,325.30 C777.67,316.97 781.52,307.02 781.50,300.30 C781.48,293.58 775.58,287.55 774.40,285.00 Z" fill="#f3cd8e" />
<path d="M686.20,285.00 C685.25,287.55 680.45,293.58 680.50,300.30 C680.55,307.02 683.50,317.47 686.50,325.30 C689.50,333.13 694.50,340.97 698.50,347.30 C702.50,353.63 705.50,358.97 710.50,363.30 C715.50,367.63 722.50,373.30 728.50,373.30 C734.50,373.30 741.50,367.63 746.50,363.30 C751.50,358.97 754.50,353.63 758.50,347.30 C762.50,340.97 767.50,333.13 770.50,325.30 C773.50,317.47 776.45,307.02 776.50,300.30 C776.55,293.58 771.75,287.55 770.80,285.00 Z" fill="#f4b062" />
<path d="M688.90,285.00 C688.00,287.05 683.57,292.25 683.50,297.30 C683.43,302.35 686.17,309.80 688.50,315.30 C690.83,320.80 693.83,325.80 697.50,330.30 C701.17,334.80 705.33,339.47 710.50,342.30 C715.67,345.13 722.50,347.30 728.50,347.30 C734.50,347.30 741.33,345.13 746.50,342.30 C751.67,339.47 755.83,334.80 759.50,330.30 C763.17,325.80 766.17,320.80 768.50,315.30 C770.83,309.80 773.57,302.35 773.50,297.30 C773.43,292.25 769.00,287.05 768.10,285.00 Z" fill="#f18d3e" />
<path d="M689.80,285.00 C689.08,286.72 685.38,291.58 685.50,295.30 C685.62,299.02 687.50,303.63 690.50,307.30 C693.50,310.97 697.17,314.97 703.50,317.30 C709.83,319.63 720.17,321.30 728.50,321.30 C736.83,321.30 747.17,319.63 753.50,317.30 C759.83,314.97 763.50,310.97 766.50,307.30 C769.50,303.63 771.38,299.02 771.50,295.30 C771.62,291.58 767.92,286.72 767.20,285.00 Z" fill="#e65a2b" />
<path d="M690.70,285.00 C690.00,286.38 686.20,290.25 686.50,293.30 C686.80,296.35 689.17,300.63 692.50,303.30 C695.83,305.97 700.50,307.97 706.50,309.30 C712.50,310.63 721.17,311.30 728.50,311.30 C735.83,311.30 744.50,310.63 750.50,309.30 C756.50,307.97 761.17,305.97 764.50,303.30 C767.83,300.63 770.20,296.35 770.50,293.30 C770.80,290.25 767.00,286.38 766.30,285.00 Z" fill="#d0302a" />
<path d="M695.20,285.00 C694.58,286.05 691.12,289.25 691.50,291.30 C691.88,293.35 694.33,295.80 697.50,297.30 C700.67,298.80 705.33,299.47 710.50,300.30 C715.67,301.13 722.50,302.30 728.50,302.30 C734.50,302.30 741.33,301.13 746.50,300.30 C751.67,299.47 756.33,298.80 759.50,297.30 C762.67,295.80 765.12,293.35 765.50,291.30 C765.88,289.25 762.42,286.05 761.80,285.00 Z" fill="#a61f2a" />
<line x1="538" y1="295.4" x2="784.4" y2="295.4" stroke="#8e8c88" stroke-width="0.5"/>
<line x1="538" y1="309.3" x2="784.4" y2="309.3" stroke="#8e8c88" stroke-width="0.5"/>
<line x1="538" y1="321.5" x2="784.4" y2="321.5" stroke="#8e8c88" stroke-width="0.5"/>
<line x1="538" y1="336.9" x2="784.4" y2="336.9" stroke="#8e8c88" stroke-width="0.5"/>
<path d="M722,143.4 L758,143.4 L756,146.5 L724,146.5 Z" fill="#5399c8" opacity="0.6"/>
<path d="M546.3,143.4 A12,5.6 0 0 0 570.3,143.4 Z" fill="#5399c8" opacity="0.85"/>
<path d="M550.3,143.4 A8,3.8 0 0 0 566.3,143.4 Z" fill="#86bdbd" />
<path d="M553.8,143.4 A4.5,2.4 0 0 0 562.8,143.4 Z" fill="#c9cf96" />
<path d="M584.7,143.4 A12,5.6 0 0 0 608.7,143.4 Z" fill="#5399c8" opacity="0.85"/>
<path d="M588.7,143.4 A8,3.8 0 0 0 604.7,143.4 Z" fill="#86bdbd" />
<path d="M592.2,143.4 A4.5,2.4 0 0 0 601.2,143.4 Z" fill="#c9cf96" />
<path d="M625.4,143.4 A12,5.6 0 0 0 649.4,143.4 Z" fill="#5399c8" opacity="0.85"/>
<path d="M629.4,143.4 A8,3.8 0 0 0 645.4,143.4 Z" fill="#86bdbd" />
<path d="M632.9,143.4 A4.5,2.4 0 0 0 641.9,143.4 Z" fill="#c9cf96" />
<path d="M666.1,143.4 A12,5.6 0 0 0 690.1,143.4 Z" fill="#5399c8" opacity="0.85"/>
<path d="M670.1,143.4 A8,3.8 0 0 0 686.1,143.4 Z" fill="#86bdbd" />
<path d="M673.6,143.4 A4.5,2.4 0 0 0 682.6,143.4 Z" fill="#c9cf96" />
<path d="M707.3,143.4 A12,5.6 0 0 0 731.3,143.4 Z" fill="#5399c8" opacity="0.85"/>
<path d="M711.3,143.4 A8,3.8 0 0 0 727.3,143.4 Z" fill="#86bdbd" />
<path d="M714.8,143.4 A4.5,2.4 0 0 0 723.8,143.4 Z" fill="#c9cf96" />
<path d="M748.7,143.4 A12,5.6 0 0 0 772.7,143.4 Z" fill="#5399c8" opacity="0.85"/>
<path d="M752.7,143.4 A8,3.8 0 0 0 768.7,143.4 Z" fill="#86bdbd" />
<path d="M756.2,143.4 A4.5,2.4 0 0 0 765.2,143.4 Z" fill="#c9cf96" />
<path d="M544.7,135.5 Q544.5,130.5 548,129.8 L564,127.5 Q570,122.5 576,122.2 L592,122 Q597,122.3 604.6,127.3 L609,128.2 Q610.8,129 610.5,132 L610.3,137.5 Q610,139 608,139 L547,139 Q544.8,139 544.7,137 Z" fill="#8ea3b3" stroke="#4a5a66" stroke-width="0.8" />
<path d="M567.5,128.5 L576,123.5 L581,123.2 L581,128.5 Z" fill="#cdd8e0" stroke="#4a5a66" stroke-width="0.5" />
<path d="M583,128.5 L583,123.2 L592,123.5 L600.5,128.2 Z" fill="#cdd8e0" stroke="#4a5a66" stroke-width="0.5" />
<circle cx="558.2" cy="138.3" r="6.6" fill="#8fa4b4" />
<circle cx="558.2" cy="138.3" r="5.6" fill="#50565a" stroke="#2c3134" stroke-width="0.6" />
<circle cx="558.2" cy="138.3" r="3.5839999999999996" fill="#a3b4bf" stroke="#6f777a" stroke-width="0.5" />
<circle cx="558.2" cy="138.3" r="1.008" fill="#8a9296" />
<circle cx="596.7" cy="138.3" r="6.6" fill="#8fa4b4" />
<circle cx="596.7" cy="138.3" r="5.6" fill="#50565a" stroke="#2c3134" stroke-width="0.6" />
<circle cx="596.7" cy="138.3" r="3.5839999999999996" fill="#a3b4bf" stroke="#6f777a" stroke-width="0.5" />
<circle cx="596.7" cy="138.3" r="1.008" fill="#8a9296" />
<path d="M624.5,134 Q624,129 627,128 L645.3,124.9 Q651,119.5 656,118.6 L682.6,118 Q687,120 689.4,124.9 Q691.2,128 691,132 L691,135 Q691,137.4 688,137.4 L627,137.4 Q624.6,137.2 624.5,135 Z" fill="#adc2b0" stroke="#5d6b5c" stroke-width="0.8" />
<path d="M647,125.5 L656.5,120 L662,119.8 L662,125.5 Z" fill="#d9e2e0" stroke="#5d6b5c" stroke-width="0.5" />
<path d="M664.5,125.5 L664.5,119.8 L674,119.8 L679,125.2 Z" fill="#d9e2e0" stroke="#5d6b5c" stroke-width="0.5" />
<path d="M676.5,120.5 L680.5,121.3 L682,124.6 L680,125 Z" fill="#d9e2e0" stroke="#5d6b5c" stroke-width="0.4" />
<circle cx="637.4" cy="137.6" r="7.2" fill="#a9bfa6" />
<circle cx="637.4" cy="137.6" r="6.2" fill="#50565a" stroke="#2c3134" stroke-width="0.6" />
<circle cx="637.4" cy="137.6" r="3.9680000000000004" fill="#b3c2b3" stroke="#6f777a" stroke-width="0.5" />
<circle cx="637.4" cy="137.6" r="1.1159999999999999" fill="#8a9296" />
<circle cx="678.1" cy="137.6" r="7.2" fill="#a9bfa6" />
<circle cx="678.1" cy="137.6" r="6.2" fill="#50565a" stroke="#2c3134" stroke-width="0.6" />
<circle cx="678.1" cy="137.6" r="3.9680000000000004" fill="#b3c2b3" stroke="#6f777a" stroke-width="0.5" />
<circle cx="678.1" cy="137.6" r="1.1159999999999999" fill="#8a9296" />
<path d="M706.4,131 Q706,126 710,124.5 L727.9,121 Q732,116.5 736,115.4 L771,114.7 Q774,115.5 775.5,120 L777,127.9 Q777.5,131 777.2,134 Q777,135.8 774,135.8 L709,135.8 Q706.5,135.6 706.4,133.5 Z" fill="#8ea3b3" stroke="#4a5a66" stroke-width="0.8" />
<path d="M730,123.3 L737,117.4 L744.5,116.8 L744.5,123.3 Z" fill="#cdd8e0" stroke="#4a5a66" stroke-width="0.5" />
<path d="M747,123 L747,116.8 L757.5,116.8 L758,123 Z" fill="#cdd8e0" stroke="#4a5a66" stroke-width="0.5" />
<path d="M760.5,123 L760,116.8 L769.5,116.6 L771.8,122.6 Z" fill="#cdd8e0" stroke="#4a5a66" stroke-width="0.5" />
<circle cx="719.3" cy="136.9" r="7.9" fill="#8fa4b4" />
<circle cx="719.3" cy="136.9" r="6.9" fill="#50565a" stroke="#2c3134" stroke-width="0.6" />
<circle cx="719.3" cy="136.9" r="4.416" fill="#a3b4bf" stroke="#6f777a" stroke-width="0.5" />
<circle cx="719.3" cy="136.9" r="1.242" fill="#8a9296" />
<circle cx="760.7" cy="136.9" r="7.9" fill="#8fa4b4" />
<circle cx="760.7" cy="136.9" r="6.9" fill="#50565a" stroke="#2c3134" stroke-width="0.6" />
<circle cx="760.7" cy="136.9" r="4.416" fill="#a3b4bf" stroke="#6f777a" stroke-width="0.5" />
<circle cx="760.7" cy="136.9" r="1.242" fill="#8a9296" />
<text x="592.2" y="97.6" font-size="8.4" fill="#1f2326" font-weight="bold" text-anchor="start" textLength="136.8" lengthAdjust="spacingAndGlyphs" stroke="#1f2326" stroke-width="0.084" >PASSENGER VEHICLES (MINIMAL IMPACT)</text>
<path d="M588.3,94.2 L558.3,94.2 L558.3,123.3" fill="none" stroke="#8a9196" stroke-width="0.7" />
<path d="M733.5,94.2 L763.6,94.2 L763.6,107" fill="none" stroke="#8a9196" stroke-width="0.7" />
<path d="M761.4,106.5 L763.6,109.8 L765.8,106.5 Z" fill="#8a9196" />
<text x="606.9" y="231.6" font-size="8.4" fill="#1f2326" font-weight="bold" text-anchor="start" textLength="108.1" lengthAdjust="spacingAndGlyphs" stroke="#1f2326" stroke-width="0.084" >HEAVY TRUCKS (MAJOR IMPACT)</text>
<path d="M603.5,228.2 L566.2,228.2 L566.2,238.3" fill="none" stroke="#8a9196" stroke-width="0.7" />
<path d="M718.8,228.2 L756.1,228.2 L756.1,236" fill="none" stroke="#8a9196" stroke-width="0.7" />
<path d="M753.9,235.5 L756.1,238.8 L758.3,235.5 Z" fill="#8a9196" />
<rect x="570.4" y="243.1" width="92.8" height="26.6" rx="0" fill="#8d9dab" stroke="#4f5c65" stroke-width="0.8" />
<path d="M605.9,269.7 L609.2,274.3 L660.7,274.3 L660.7,269.7 Z" fill="#75848f" stroke="#4f5c65" stroke-width="0.6" />
<rect x="566" y="271.7" width="38.5" height="6.8" rx="0" fill="#75848f" stroke="#4f5c65" stroke-width="0.6" />
<path d="M543,277.7 L543.2,263.3 L547.7,252.3 L553.6,251.5 Q558,246 567.4,244.7 L567.4,277.7 Z" fill="#8d9dab" stroke="#4f5c65" stroke-width="0.8" />
<path d="M548.5,254.4 L557.3,254.4 L557.3,261.6 L546,261.6 Z" fill="#d4dde2" stroke="#4f5c65" stroke-width="0.5" />
<path d="M549.93,277.81 A7.8999999999999995,7.8999999999999995 0 0 1 565.67,277.81" fill="none" stroke="#eef2f5" stroke-width="1.7" />
<path d="M549.25,275.39 A9.1,9.1 0 0 1 566.35,275.39" fill="none" stroke="#4f5c65" stroke-width="0.7" />
<circle cx="557.8" cy="278.5" r="7.1" fill="#50565a" stroke="#2c3134" stroke-width="0.6" />
<circle cx="557.8" cy="278.5" r="3.6919999999999997" fill="#a3aeb5" stroke="#6f777a" stroke-width="0.5" />
<circle cx="557.8" cy="278.5" r="1.2779999999999998" fill="#8a9296" />
<path d="M585.33,277.81 A7.8999999999999995,7.8999999999999995 0 0 1 601.07,277.81" fill="none" stroke="#eef2f5" stroke-width="1.7" />
<path d="M584.65,275.39 A9.1,9.1 0 0 1 601.75,275.39" fill="none" stroke="#4f5c65" stroke-width="0.7" />
<circle cx="593.2" cy="278.5" r="7.1" fill="#50565a" stroke="#2c3134" stroke-width="0.6" />
<circle cx="593.2" cy="278.5" r="3.6919999999999997" fill="#a3aeb5" stroke="#6f777a" stroke-width="0.5" />
<circle cx="593.2" cy="278.5" r="1.2779999999999998" fill="#8a9296" />
<path d="M626.73,277.81 A7.8999999999999995,7.8999999999999995 0 0 1 642.47,277.81" fill="none" stroke="#eef2f5" stroke-width="1.7" />
<path d="M626.05,275.39 A9.1,9.1 0 0 1 643.15,275.39" fill="none" stroke="#4f5c65" stroke-width="0.7" />
<circle cx="634.6" cy="278.5" r="7.1" fill="#50565a" stroke="#2c3134" stroke-width="0.6" />
<circle cx="634.6" cy="278.5" r="3.6919999999999997" fill="#a3aeb5" stroke="#6f777a" stroke-width="0.5" />
<circle cx="634.6" cy="278.5" r="1.2779999999999998" fill="#8a9296" />
<path d="M640.53,277.81 A7.8999999999999995,7.8999999999999995 0 0 1 656.27,277.81" fill="none" stroke="#eef2f5" stroke-width="1.7" />
<path d="M639.85,275.39 A9.1,9.1 0 0 1 656.95,275.39" fill="none" stroke="#4f5c65" stroke-width="0.7" />
<circle cx="648.4" cy="278.5" r="7.1" fill="#50565a" stroke="#2c3134" stroke-width="0.6" />
<circle cx="648.4" cy="278.5" r="3.6919999999999997" fill="#a3aeb5" stroke="#6f777a" stroke-width="0.5" />
<circle cx="648.4" cy="278.5" r="1.2779999999999998" fill="#8a9296" />
<rect x="705" y="268.9" width="65" height="4.8" rx="0" fill="#75848f" stroke="#4f5c65" stroke-width="0.6" />
<path d="M714.9,248.8 C720,246 726,241 732.8,240.5 C737,241.5 740,244.5 742,244 C744,241 746.5,240 749.3,239.7 C755,241 760,245.5 768.5,248.8 Z" fill="#52575b" />
<path d="M680.5,277.4 L680.5,256 Q681,249.5 685.3,248.2 L704.6,248.2 L704.6,277.4 Z" fill="#8d9dab" stroke="#4f5c65" stroke-width="0.8" />
<path d="M688,250.6 L697.7,250.6 L697.7,258.3 L686,258.8 Z" fill="#d4dde2" stroke="#4f5c65" stroke-width="0.5" />
<rect x="706" y="260" width="4" height="12" rx="0" fill="#5f6c75" />
<path d="M694.3,243.3 L711.5,243.3 L722.5,268.5 L768.5,268.5 L779.5,261.6 L776.8,248.5 L714.9,248.5 L713,246 L694.3,246 Z" fill="#8d9dab" stroke="#4f5c65" stroke-width="0.8" />
<path d="M719.0,250.8 L728.6,250.8 L730.6,266.2 L722.0,266.2 Z" fill="#6f7d87" />
<path d="M730.6,250.8 L740.2,250.8 L742.2,266.2 L733.6,266.2 Z" fill="#6f7d87" />
<path d="M742.2,250.8 L751.8,250.8 L753.8,266.2 L745.2,266.2 Z" fill="#6f7d87" />
<path d="M753.8,250.8 L763.4,250.8 L765.4,266.2 L756.8,266.2 Z" fill="#6f7d87" />
<path d="M765.4,250.8 L775.0,250.8 L777.0,266.2 L768.4,266.2 Z" fill="#6f7d87" />
<rect x="706.6" y="272.6" width="15.2" height="6.2" rx="0" fill="#8d9dab" stroke="#4f5c65" stroke-width="0.5" />
<path d="M687.03,277.50 A8.0,8.0 0 0 1 702.97,277.50" fill="none" stroke="#eef2f5" stroke-width="1.7" />
<path d="M686.35,275.05 A9.2,9.2 0 0 1 703.65,275.05" fill="none" stroke="#4f5c65" stroke-width="0.7" />
<circle cx="695" cy="278.2" r="7.2" fill="#50565a" stroke="#2c3134" stroke-width="0.6" />
<circle cx="695" cy="278.2" r="3.744" fill="#a3aeb5" stroke="#6f777a" stroke-width="0.5" />
<circle cx="695" cy="278.2" r="1.296" fill="#8a9296" />
<path d="M738.53,277.50 A8.0,8.0 0 0 1 754.47,277.50" fill="none" stroke="#eef2f5" stroke-width="1.7" />
<path d="M737.85,275.05 A9.2,9.2 0 0 1 755.15,275.05" fill="none" stroke="#4f5c65" stroke-width="0.7" />
<circle cx="746.5" cy="278.2" r="7.2" fill="#50565a" stroke="#2c3134" stroke-width="0.6" />
<circle cx="746.5" cy="278.2" r="3.744" fill="#a3aeb5" stroke="#6f777a" stroke-width="0.5" />
<circle cx="746.5" cy="278.2" r="1.296" fill="#8a9296" />
<path d="M754.33,277.50 A8.0,8.0 0 0 1 770.27,277.50" fill="none" stroke="#eef2f5" stroke-width="1.7" />
<path d="M753.65,275.05 A9.2,9.2 0 0 1 770.95,275.05" fill="none" stroke="#4f5c65" stroke-width="0.7" />
<circle cx="762.3" cy="278.2" r="7.2" fill="#50565a" stroke="#2c3134" stroke-width="0.6" />
<circle cx="762.3" cy="278.2" r="3.744" fill="#a3aeb5" stroke="#6f777a" stroke-width="0.5" />
<circle cx="762.3" cy="278.2" r="1.296" fill="#8a9296" />
<rect x="709.4" y="344.1" width="75.7" height="57.8" rx="0" fill="#f6f7f8" stroke="#b9c0c5" stroke-width="0.7" filter="url(#sh)"/>
<line x1="718.5" y1="352" x2="781.5" y2="352" stroke="#e3e6e8" stroke-width="0.5"/>
<line x1="718.5" y1="359" x2="781.5" y2="359" stroke="#e3e6e8" stroke-width="0.5"/>
<line x1="718.5" y1="366" x2="781.5" y2="366" stroke="#e3e6e8" stroke-width="0.5"/>
<line x1="718.5" y1="373" x2="781.5" y2="373" stroke="#e3e6e8" stroke-width="0.5"/>
<line x1="718.5" y1="380" x2="781.5" y2="380" stroke="#e3e6e8" stroke-width="0.5"/>
<line x1="718.5" y1="387" x2="781.5" y2="387" stroke="#e3e6e8" stroke-width="0.5"/>
<line x1="718.5" y1="348" x2="718.5" y2="391.5" stroke="#5a5f63" stroke-width="0.6"/>
<line x1="718.5" y1="391.5" x2="781.5" y2="391.5" stroke="#5a5f63" stroke-width="0.6"/>
<rect x="757.2" y="352.5" width="16.9" height="39" rx="0" fill="#c9705b" stroke="#a8553f" stroke-width="0.5" />
<rect x="725.6" y="389.6" width="16" height="1.4" rx="0" fill="#3f7aa6" />
<path d="M726,390.5 L738,390 C745,389 750.5,378 753.5,350" fill="none" stroke="#2f6f9a" stroke-width="0.9" />
<path d="M751.6,351.2 L753.8,346.8 L755.4,351.5 Z" fill="#2f6f9a" />
<text x="0" y="0" font-size="4" fill="#333" stroke="#333" stroke-width="0.08" transform="translate(715.8,390) rotate(-90)" textLength="42" lengthAdjust="spacingAndGlyphs">RELATIVE DAMAGE FACTOR</text>
<text x="757.5" y="350.6" font-size="4" fill="#222" font-weight="bold" text-anchor="start" textLength="16.5" lengthAdjust="spacingAndGlyphs" stroke="#222" stroke-width="0.04" >(10,000x+)</text>
<text x="733.5" y="388.6" font-size="3.8" fill="#222" font-weight="normal" text-anchor="start" textLength="4" lengthAdjust="spacingAndGlyphs" stroke="#222" stroke-width="0.0836" >1x</text>
<text x="732.2" y="395.6" font-size="4" fill="#222" font-weight="normal" text-anchor="middle" textLength="17" lengthAdjust="spacingAndGlyphs" stroke="#222" stroke-width="0.088" >Passenger Car</text>
<text x="732.2" y="400.4" font-size="3.8" fill="#222" font-weight="normal" text-anchor="middle" textLength="4" lengthAdjust="spacingAndGlyphs" stroke="#222" stroke-width="0.0836" >(1)</text>
<text x="766" y="395.6" font-size="4" fill="#222" font-weight="normal" text-anchor="middle" textLength="16.5" lengthAdjust="spacingAndGlyphs" stroke="#222" stroke-width="0.088" >Fully Loaded</text>
<text x="766" y="400.4" font-size="4" fill="#222" font-weight="normal" text-anchor="middle" textLength="15" lengthAdjust="spacingAndGlyphs" stroke="#222" stroke-width="0.088" >Semi-Truck</text>
<path d="M767.7,397 Q768.8,408.8 780.5,409.9 Q768.8,411 767.7,423 Q766.6,411 754.9,409.9 Q766.6,408.8 767.7,397 Z" fill="#ffffff" opacity="0.55"/>
</svg></body></html>
